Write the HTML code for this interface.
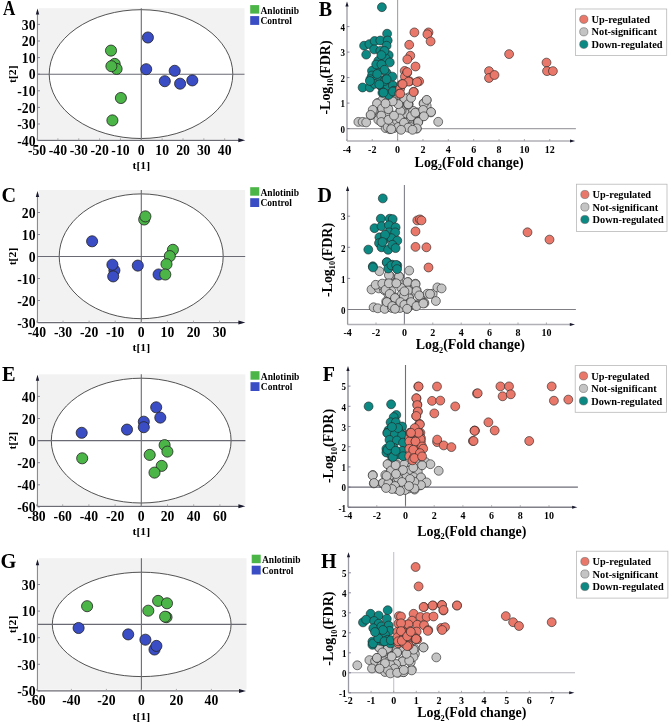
<!DOCTYPE html><html><head><meta charset="utf-8"><style>html,body{margin:0;padding:0;background:#fff;}svg{display:block;will-change:transform;}</style></head><body>
<svg width="669" height="724" viewBox="0 0 669 724">
<rect x="38.7" y="8.2" width="205.8" height="130.8" fill="#f2f2f2"/>
<ellipse cx="141" cy="74.1" rx="91.8" ry="64.4" fill="#fff" stroke="#404040" stroke-width="0.9"/>
<line x1="141.3" y1="8.2" x2="141.3" y2="140.3" stroke="#6a6a74" stroke-width="1.1"/>
<line x1="37.5" y1="74.2" x2="244.5" y2="74.2" stroke="#6a6a74" stroke-width="1.1"/>
<line x1="37.5" y1="11.5" x2="37.5" y2="140.3" stroke="#8a8a98" stroke-width="1.2"/>
<line x1="37.5" y1="140.3" x2="242.3" y2="140.3" stroke="#6c6c74" stroke-width="1.2"/>
<path d="M37.5 8.5 L35.8 14.5 L39.2 14.5 Z" fill="#1a1a2e"/>
<path d="M245.3 140.3 L238.3 138.3 L238.3 142.3 Z" fill="#1a1a2e"/>
<line x1="37.05" y1="140.3" x2="37.05" y2="138.3" stroke="#999" stroke-width="0.8"/>
<text x="0" y="0" font-family="Liberation Serif" font-weight="bold" font-size="13.7" text-anchor="middle" transform="translate(37.05 154.8) scale(1 1.13)" >-50</text>
<line x1="57.9" y1="140.3" x2="57.9" y2="138.3" stroke="#999" stroke-width="0.8"/>
<text x="0" y="0" font-family="Liberation Serif" font-weight="bold" font-size="13.7" text-anchor="middle" transform="translate(57.9 154.8) scale(1 1.13)" >-40</text>
<line x1="78.75" y1="140.3" x2="78.75" y2="138.3" stroke="#999" stroke-width="0.8"/>
<text x="0" y="0" font-family="Liberation Serif" font-weight="bold" font-size="13.7" text-anchor="middle" transform="translate(78.75 154.8) scale(1 1.13)" >-30</text>
<line x1="99.6" y1="140.3" x2="99.6" y2="138.3" stroke="#999" stroke-width="0.8"/>
<text x="0" y="0" font-family="Liberation Serif" font-weight="bold" font-size="13.7" text-anchor="middle" transform="translate(99.6 154.8) scale(1 1.13)" >-20</text>
<line x1="120.45" y1="140.3" x2="120.45" y2="138.3" stroke="#999" stroke-width="0.8"/>
<text x="0" y="0" font-family="Liberation Serif" font-weight="bold" font-size="13.7" text-anchor="middle" transform="translate(120.45 154.8) scale(1 1.13)" >-10</text>
<line x1="141.3" y1="140.3" x2="141.3" y2="138.3" stroke="#999" stroke-width="0.8"/>
<text x="0" y="0" font-family="Liberation Serif" font-weight="bold" font-size="13.7" text-anchor="middle" transform="translate(141.3 154.8) scale(1 1.13)" >0</text>
<line x1="162.15" y1="140.3" x2="162.15" y2="138.3" stroke="#999" stroke-width="0.8"/>
<text x="0" y="0" font-family="Liberation Serif" font-weight="bold" font-size="13.7" text-anchor="middle" transform="translate(162.15 154.8) scale(1 1.13)" >10</text>
<line x1="183" y1="140.3" x2="183" y2="138.3" stroke="#999" stroke-width="0.8"/>
<text x="0" y="0" font-family="Liberation Serif" font-weight="bold" font-size="13.7" text-anchor="middle" transform="translate(183 154.8) scale(1 1.13)" >20</text>
<line x1="203.85" y1="140.3" x2="203.85" y2="138.3" stroke="#999" stroke-width="0.8"/>
<text x="0" y="0" font-family="Liberation Serif" font-weight="bold" font-size="13.7" text-anchor="middle" transform="translate(203.85 154.8) scale(1 1.13)" >30</text>
<line x1="224.7" y1="140.3" x2="224.7" y2="138.3" stroke="#999" stroke-width="0.8"/>
<text x="0" y="0" font-family="Liberation Serif" font-weight="bold" font-size="13.7" text-anchor="middle" transform="translate(224.7 154.8) scale(1 1.13)" >40</text>
<line x1="37.5" y1="140.6" x2="40.0" y2="140.6" stroke="#6e6e84" stroke-width="0.8"/>
<text x="0" y="0" font-family="Liberation Serif" font-weight="bold" font-size="13.7" text-anchor="end" transform="translate(35.5 145.8) scale(1 1.13)" >-40</text>
<line x1="37.5" y1="124" x2="40.0" y2="124" stroke="#6e6e84" stroke-width="0.8"/>
<text x="0" y="0" font-family="Liberation Serif" font-weight="bold" font-size="13.7" text-anchor="end" transform="translate(35.5 129.2) scale(1 1.13)" >-30</text>
<line x1="37.5" y1="107.4" x2="40.0" y2="107.4" stroke="#6e6e84" stroke-width="0.8"/>
<text x="0" y="0" font-family="Liberation Serif" font-weight="bold" font-size="13.7" text-anchor="end" transform="translate(35.5 112.6) scale(1 1.13)" >-20</text>
<line x1="37.5" y1="90.8" x2="40.0" y2="90.8" stroke="#6e6e84" stroke-width="0.8"/>
<text x="0" y="0" font-family="Liberation Serif" font-weight="bold" font-size="13.7" text-anchor="end" transform="translate(35.5 96) scale(1 1.13)" >-10</text>
<line x1="37.5" y1="74.2" x2="40.0" y2="74.2" stroke="#6e6e84" stroke-width="0.8"/>
<text x="0" y="0" font-family="Liberation Serif" font-weight="bold" font-size="13.7" text-anchor="end" transform="translate(35.5 79.4) scale(1 1.13)" >0</text>
<line x1="37.5" y1="57.6" x2="40.0" y2="57.6" stroke="#6e6e84" stroke-width="0.8"/>
<text x="0" y="0" font-family="Liberation Serif" font-weight="bold" font-size="13.7" text-anchor="end" transform="translate(35.5 62.8) scale(1 1.13)" >10</text>
<line x1="37.5" y1="41" x2="40.0" y2="41" stroke="#6e6e84" stroke-width="0.8"/>
<text x="0" y="0" font-family="Liberation Serif" font-weight="bold" font-size="13.7" text-anchor="end" transform="translate(35.5 46.2) scale(1 1.13)" >20</text>
<line x1="37.5" y1="24.4" x2="40.0" y2="24.4" stroke="#6e6e84" stroke-width="0.8"/>
<text x="0" y="0" font-family="Liberation Serif" font-weight="bold" font-size="13.7" text-anchor="end" transform="translate(35.5 29.6) scale(1 1.13)" >30</text>
<text x="0" y="0" font-family="Liberation Serif" font-weight="bold" font-size="11.4" text-anchor="middle" transform="translate(141.3 168.9) scale(1.03 1)" >t[1]</text>
<text x="0" y="0" font-family="Liberation Serif" font-weight="bold" font-size="11.4" text-anchor="middle" transform="translate(15.6 74.2) rotate(-90) scale(1.03 1)" >t[2]</text>
<circle cx="114.7" cy="63.9" r="5.55" fill="#4bb548" stroke="#222" stroke-width="0.8"/>
<circle cx="111" cy="50.6" r="5.55" fill="#4bb548" stroke="#222" stroke-width="0.8"/>
<circle cx="116.6" cy="68.9" r="5.55" fill="#4bb548" stroke="#222" stroke-width="0.8"/>
<circle cx="111.4" cy="66.2" r="5.55" fill="#4bb548" stroke="#222" stroke-width="0.8"/>
<circle cx="120.9" cy="98" r="5.55" fill="#4bb548" stroke="#222" stroke-width="0.8"/>
<circle cx="112.4" cy="120.4" r="5.55" fill="#4bb548" stroke="#222" stroke-width="0.8"/>
<circle cx="147.9" cy="37.5" r="5.55" fill="#3b4dc4" stroke="#222" stroke-width="0.8"/>
<circle cx="146.2" cy="69.2" r="5.55" fill="#3b4dc4" stroke="#222" stroke-width="0.8"/>
<circle cx="174.7" cy="70.8" r="5.55" fill="#3b4dc4" stroke="#222" stroke-width="0.8"/>
<circle cx="164.8" cy="81.2" r="5.55" fill="#3b4dc4" stroke="#222" stroke-width="0.8"/>
<circle cx="180.1" cy="83.7" r="5.55" fill="#3b4dc4" stroke="#222" stroke-width="0.8"/>
<circle cx="192.3" cy="80.4" r="5.55" fill="#3b4dc4" stroke="#222" stroke-width="0.8"/>
<text x="0" y="0" font-family="Liberation Serif" font-weight="bold" font-size="20.5" text-anchor="start" transform="translate(3 15) scale(0.83 1)" >A</text>
<rect x="250.2" y="5.1" width="9" height="8.5" fill="#4bb548"/>
<rect x="250.2" y="16.1" width="9" height="8.8" fill="#3b4dc4"/>
<text x="260.5" y="13.5" font-family="Liberation Serif" font-weight="bold" font-size="9.5" text-anchor="start" >Anlotinib</text>
<text x="260.5" y="24.3" font-family="Liberation Serif" font-weight="bold" font-size="9.5" text-anchor="start" >Control</text>
<rect x="38.7" y="190" width="206.5" height="131.3" fill="#f2f2f2"/>
<ellipse cx="141.2" cy="256.3" rx="82" ry="62.4" fill="#fff" stroke="#404040" stroke-width="0.9"/>
<line x1="141.3" y1="190" x2="141.3" y2="322.6" stroke="#6a6a74" stroke-width="1.1"/>
<line x1="37.5" y1="256.5" x2="245.2" y2="256.5" stroke="#6a6a74" stroke-width="1.1"/>
<line x1="37.5" y1="194.0" x2="37.5" y2="322.6" stroke="#8a8a98" stroke-width="1.2"/>
<line x1="37.5" y1="322.6" x2="242.4" y2="322.6" stroke="#6c6c74" stroke-width="1.2"/>
<path d="M37.5 191 L35.8 197 L39.2 197 Z" fill="#1a1a2e"/>
<path d="M245.4 322.6 L238.4 320.6 L238.4 324.6 Z" fill="#1a1a2e"/>
<line x1="36.9" y1="322.6" x2="36.9" y2="320.6" stroke="#999" stroke-width="0.8"/>
<text x="0" y="0" font-family="Liberation Serif" font-weight="bold" font-size="13.7" text-anchor="middle" transform="translate(36.9 337.1) scale(1 1.13)" >-40</text>
<line x1="63" y1="322.6" x2="63" y2="320.6" stroke="#999" stroke-width="0.8"/>
<text x="0" y="0" font-family="Liberation Serif" font-weight="bold" font-size="13.7" text-anchor="middle" transform="translate(63 337.1) scale(1 1.13)" >-30</text>
<line x1="89.1" y1="322.6" x2="89.1" y2="320.6" stroke="#999" stroke-width="0.8"/>
<text x="0" y="0" font-family="Liberation Serif" font-weight="bold" font-size="13.7" text-anchor="middle" transform="translate(89.1 337.1) scale(1 1.13)" >-20</text>
<line x1="115.2" y1="322.6" x2="115.2" y2="320.6" stroke="#999" stroke-width="0.8"/>
<text x="0" y="0" font-family="Liberation Serif" font-weight="bold" font-size="13.7" text-anchor="middle" transform="translate(115.2 337.1) scale(1 1.13)" >-10</text>
<line x1="141.3" y1="322.6" x2="141.3" y2="320.6" stroke="#999" stroke-width="0.8"/>
<text x="0" y="0" font-family="Liberation Serif" font-weight="bold" font-size="13.7" text-anchor="middle" transform="translate(141.3 337.1) scale(1 1.13)" >0</text>
<line x1="167.4" y1="322.6" x2="167.4" y2="320.6" stroke="#999" stroke-width="0.8"/>
<text x="0" y="0" font-family="Liberation Serif" font-weight="bold" font-size="13.7" text-anchor="middle" transform="translate(167.4 337.1) scale(1 1.13)" >10</text>
<line x1="193.5" y1="322.6" x2="193.5" y2="320.6" stroke="#999" stroke-width="0.8"/>
<text x="0" y="0" font-family="Liberation Serif" font-weight="bold" font-size="13.7" text-anchor="middle" transform="translate(193.5 337.1) scale(1 1.13)" >20</text>
<line x1="219.6" y1="322.6" x2="219.6" y2="320.6" stroke="#999" stroke-width="0.8"/>
<text x="0" y="0" font-family="Liberation Serif" font-weight="bold" font-size="13.7" text-anchor="middle" transform="translate(219.6 337.1) scale(1 1.13)" >30</text>
<line x1="37.5" y1="322.5" x2="40.0" y2="322.5" stroke="#6e6e84" stroke-width="0.8"/>
<text x="0" y="0" font-family="Liberation Serif" font-weight="bold" font-size="13.7" text-anchor="end" transform="translate(35.5 327.7) scale(1 1.13)" >-30</text>
<line x1="37.5" y1="300.5" x2="40.0" y2="300.5" stroke="#6e6e84" stroke-width="0.8"/>
<text x="0" y="0" font-family="Liberation Serif" font-weight="bold" font-size="13.7" text-anchor="end" transform="translate(35.5 305.7) scale(1 1.13)" >-20</text>
<line x1="37.5" y1="278.5" x2="40.0" y2="278.5" stroke="#6e6e84" stroke-width="0.8"/>
<text x="0" y="0" font-family="Liberation Serif" font-weight="bold" font-size="13.7" text-anchor="end" transform="translate(35.5 283.7) scale(1 1.13)" >-10</text>
<line x1="37.5" y1="256.5" x2="40.0" y2="256.5" stroke="#6e6e84" stroke-width="0.8"/>
<text x="0" y="0" font-family="Liberation Serif" font-weight="bold" font-size="13.7" text-anchor="end" transform="translate(35.5 261.7) scale(1 1.13)" >0</text>
<line x1="37.5" y1="234.5" x2="40.0" y2="234.5" stroke="#6e6e84" stroke-width="0.8"/>
<text x="0" y="0" font-family="Liberation Serif" font-weight="bold" font-size="13.7" text-anchor="end" transform="translate(35.5 239.7) scale(1 1.13)" >10</text>
<line x1="37.5" y1="212.5" x2="40.0" y2="212.5" stroke="#6e6e84" stroke-width="0.8"/>
<text x="0" y="0" font-family="Liberation Serif" font-weight="bold" font-size="13.7" text-anchor="end" transform="translate(35.5 217.7) scale(1 1.13)" >20</text>
<text x="0" y="0" font-family="Liberation Serif" font-weight="bold" font-size="11.4" text-anchor="middle" transform="translate(141.3 351.2) scale(1.03 1)" >t[1]</text>
<text x="0" y="0" font-family="Liberation Serif" font-weight="bold" font-size="11.4" text-anchor="middle" transform="translate(15.6 256.5) rotate(-90) scale(1.03 1)" >t[2]</text>
<circle cx="92.1" cy="241.3" r="5.55" fill="#3b4dc4" stroke="#222" stroke-width="0.8"/>
<circle cx="114.4" cy="270.4" r="5.55" fill="#3b4dc4" stroke="#222" stroke-width="0.8"/>
<circle cx="112.4" cy="264.7" r="5.55" fill="#3b4dc4" stroke="#222" stroke-width="0.8"/>
<circle cx="113.2" cy="276.4" r="5.55" fill="#3b4dc4" stroke="#222" stroke-width="0.8"/>
<circle cx="137.8" cy="265.6" r="5.55" fill="#3b4dc4" stroke="#222" stroke-width="0.8"/>
<circle cx="158.6" cy="274.5" r="5.55" fill="#3b4dc4" stroke="#222" stroke-width="0.8"/>
<circle cx="144.2" cy="219.5" r="5.55" fill="#4bb548" stroke="#222" stroke-width="0.8"/>
<circle cx="145.4" cy="216.4" r="5.55" fill="#4bb548" stroke="#222" stroke-width="0.8"/>
<circle cx="172.9" cy="249.8" r="5.55" fill="#4bb548" stroke="#222" stroke-width="0.8"/>
<circle cx="169.8" cy="256.1" r="5.55" fill="#4bb548" stroke="#222" stroke-width="0.8"/>
<circle cx="166.5" cy="264.2" r="5.55" fill="#4bb548" stroke="#222" stroke-width="0.8"/>
<circle cx="165.3" cy="274.5" r="5.55" fill="#4bb548" stroke="#222" stroke-width="0.8"/>
<text x="0" y="0" font-family="Liberation Serif" font-weight="bold" font-size="21" text-anchor="start" transform="translate(1.5 202) scale(0.96 1)" >C</text>
<rect x="250.2" y="187.2" width="9" height="8.5" fill="#4bb548"/>
<rect x="250.2" y="198.2" width="9" height="8.8" fill="#3b4dc4"/>
<text x="260.5" y="195.6" font-family="Liberation Serif" font-weight="bold" font-size="9.5" text-anchor="start" >Anlotinib</text>
<text x="260.5" y="206.4" font-family="Liberation Serif" font-weight="bold" font-size="9.5" text-anchor="start" >Control</text>
<rect x="38.7" y="374.3" width="206.7" height="130.7" fill="#f2f2f2"/>
<ellipse cx="141.2" cy="440.6" rx="89.9" ry="62.4" fill="#fff" stroke="#404040" stroke-width="0.9"/>
<line x1="141.3" y1="374.3" x2="141.3" y2="506.3" stroke="#6a6a74" stroke-width="1.1"/>
<line x1="37.5" y1="440.6" x2="245.4" y2="440.6" stroke="#6a6a74" stroke-width="1.1"/>
<line x1="37.5" y1="377.8" x2="37.5" y2="506.3" stroke="#8a8a98" stroke-width="1.2"/>
<line x1="37.5" y1="506.3" x2="242.4" y2="506.3" stroke="#6c6c74" stroke-width="1.2"/>
<path d="M37.5 374.8 L35.8 380.8 L39.2 380.8 Z" fill="#1a1a2e"/>
<path d="M245.4 506.3 L238.4 504.3 L238.4 508.3 Z" fill="#1a1a2e"/>
<line x1="36.5" y1="506.3" x2="36.5" y2="504.3" stroke="#999" stroke-width="0.8"/>
<text x="0" y="0" font-family="Liberation Serif" font-weight="bold" font-size="13.7" text-anchor="middle" transform="translate(36.5 520.8) scale(1 1.13)" >-80</text>
<line x1="62.7" y1="506.3" x2="62.7" y2="504.3" stroke="#999" stroke-width="0.8"/>
<text x="0" y="0" font-family="Liberation Serif" font-weight="bold" font-size="13.7" text-anchor="middle" transform="translate(62.7 520.8) scale(1 1.13)" >-60</text>
<line x1="88.9" y1="506.3" x2="88.9" y2="504.3" stroke="#999" stroke-width="0.8"/>
<text x="0" y="0" font-family="Liberation Serif" font-weight="bold" font-size="13.7" text-anchor="middle" transform="translate(88.9 520.8) scale(1 1.13)" >-40</text>
<line x1="115.1" y1="506.3" x2="115.1" y2="504.3" stroke="#999" stroke-width="0.8"/>
<text x="0" y="0" font-family="Liberation Serif" font-weight="bold" font-size="13.7" text-anchor="middle" transform="translate(115.1 520.8) scale(1 1.13)" >-20</text>
<line x1="141.3" y1="506.3" x2="141.3" y2="504.3" stroke="#999" stroke-width="0.8"/>
<text x="0" y="0" font-family="Liberation Serif" font-weight="bold" font-size="13.7" text-anchor="middle" transform="translate(141.3 520.8) scale(1 1.13)" >0</text>
<line x1="167.5" y1="506.3" x2="167.5" y2="504.3" stroke="#999" stroke-width="0.8"/>
<text x="0" y="0" font-family="Liberation Serif" font-weight="bold" font-size="13.7" text-anchor="middle" transform="translate(167.5 520.8) scale(1 1.13)" >20</text>
<line x1="193.7" y1="506.3" x2="193.7" y2="504.3" stroke="#999" stroke-width="0.8"/>
<text x="0" y="0" font-family="Liberation Serif" font-weight="bold" font-size="13.7" text-anchor="middle" transform="translate(193.7 520.8) scale(1 1.13)" >40</text>
<line x1="219.9" y1="506.3" x2="219.9" y2="504.3" stroke="#999" stroke-width="0.8"/>
<text x="0" y="0" font-family="Liberation Serif" font-weight="bold" font-size="13.7" text-anchor="middle" transform="translate(219.9 520.8) scale(1 1.13)" >60</text>
<line x1="37.5" y1="506.9" x2="40.0" y2="506.9" stroke="#6e6e84" stroke-width="0.8"/>
<text x="0" y="0" font-family="Liberation Serif" font-weight="bold" font-size="13.7" text-anchor="end" transform="translate(35.5 512.1) scale(1 1.13)" >-60</text>
<line x1="37.5" y1="484.8" x2="40.0" y2="484.8" stroke="#6e6e84" stroke-width="0.8"/>
<text x="0" y="0" font-family="Liberation Serif" font-weight="bold" font-size="13.7" text-anchor="end" transform="translate(35.5 490) scale(1 1.13)" >-40</text>
<line x1="37.5" y1="462.7" x2="40.0" y2="462.7" stroke="#6e6e84" stroke-width="0.8"/>
<text x="0" y="0" font-family="Liberation Serif" font-weight="bold" font-size="13.7" text-anchor="end" transform="translate(35.5 467.9) scale(1 1.13)" >-20</text>
<line x1="37.5" y1="440.6" x2="40.0" y2="440.6" stroke="#6e6e84" stroke-width="0.8"/>
<text x="0" y="0" font-family="Liberation Serif" font-weight="bold" font-size="13.7" text-anchor="end" transform="translate(35.5 445.8) scale(1 1.13)" >0</text>
<line x1="37.5" y1="418.5" x2="40.0" y2="418.5" stroke="#6e6e84" stroke-width="0.8"/>
<text x="0" y="0" font-family="Liberation Serif" font-weight="bold" font-size="13.7" text-anchor="end" transform="translate(35.5 423.7) scale(1 1.13)" >20</text>
<line x1="37.5" y1="396.4" x2="40.0" y2="396.4" stroke="#6e6e84" stroke-width="0.8"/>
<text x="0" y="0" font-family="Liberation Serif" font-weight="bold" font-size="13.7" text-anchor="end" transform="translate(35.5 401.6) scale(1 1.13)" >40</text>
<text x="0" y="0" font-family="Liberation Serif" font-weight="bold" font-size="11.4" text-anchor="middle" transform="translate(141.3 534.9) scale(1.03 1)" >t[1]</text>
<text x="0" y="0" font-family="Liberation Serif" font-weight="bold" font-size="11.4" text-anchor="middle" transform="translate(15.6 440.6) rotate(-90) scale(1.03 1)" >t[2]</text>
<circle cx="81.7" cy="432.8" r="5.55" fill="#3b4dc4" stroke="#222" stroke-width="0.8"/>
<circle cx="127" cy="429.6" r="5.55" fill="#3b4dc4" stroke="#222" stroke-width="0.8"/>
<circle cx="143.8" cy="421.7" r="5.55" fill="#3b4dc4" stroke="#222" stroke-width="0.8"/>
<circle cx="143.8" cy="427.2" r="5.55" fill="#3b4dc4" stroke="#222" stroke-width="0.8"/>
<circle cx="156.2" cy="407.3" r="5.55" fill="#3b4dc4" stroke="#222" stroke-width="0.8"/>
<circle cx="160.3" cy="417.6" r="5.55" fill="#3b4dc4" stroke="#222" stroke-width="0.8"/>
<circle cx="82.2" cy="458.3" r="5.55" fill="#4bb548" stroke="#222" stroke-width="0.8"/>
<circle cx="149.7" cy="454.9" r="5.55" fill="#4bb548" stroke="#222" stroke-width="0.8"/>
<circle cx="164.6" cy="445.1" r="5.55" fill="#4bb548" stroke="#222" stroke-width="0.8"/>
<circle cx="167.4" cy="451.6" r="5.55" fill="#4bb548" stroke="#222" stroke-width="0.8"/>
<circle cx="161.7" cy="465.9" r="5.55" fill="#4bb548" stroke="#222" stroke-width="0.8"/>
<circle cx="154.5" cy="472.6" r="5.55" fill="#4bb548" stroke="#222" stroke-width="0.8"/>
<text x="1.9" y="380.8" font-family="Liberation Serif" font-weight="bold" font-size="20.3" text-anchor="start" >E</text>
<rect x="250.5" y="371.2" width="9" height="8.5" fill="#4bb548"/>
<rect x="250.5" y="382.2" width="9" height="8.8" fill="#3b4dc4"/>
<text x="260.8" y="379.6" font-family="Liberation Serif" font-weight="bold" font-size="9.5" text-anchor="start" >Anlotinib</text>
<text x="260.8" y="390.4" font-family="Liberation Serif" font-weight="bold" font-size="9.5" text-anchor="start" >Control</text>
<rect x="38.7" y="558.2" width="207.8" height="131.4" fill="#f2f2f2"/>
<ellipse cx="141.7" cy="624.4" rx="89.4" ry="52.2" fill="#fff" stroke="#404040" stroke-width="0.9"/>
<line x1="141.4" y1="558.2" x2="141.4" y2="690.9" stroke="#6a6a74" stroke-width="1.1"/>
<line x1="37.5" y1="624.4" x2="246.5" y2="624.4" stroke="#6a6a74" stroke-width="1.1"/>
<line x1="37.5" y1="562.2" x2="37.5" y2="690.9" stroke="#8a8a98" stroke-width="1.2"/>
<line x1="37.5" y1="690.9" x2="243.0" y2="690.9" stroke="#6c6c74" stroke-width="1.2"/>
<path d="M37.5 559.2 L35.8 565.2 L39.2 565.2 Z" fill="#1a1a2e"/>
<path d="M246 690.9 L239 688.9 L239 692.9 Z" fill="#1a1a2e"/>
<line x1="36.4" y1="690.9" x2="36.4" y2="688.9" stroke="#999" stroke-width="0.8"/>
<text x="0" y="0" font-family="Liberation Serif" font-weight="bold" font-size="13.7" text-anchor="middle" transform="translate(36.4 705.4) scale(1 1.13)" >-60</text>
<line x1="71.4" y1="690.9" x2="71.4" y2="688.9" stroke="#999" stroke-width="0.8"/>
<text x="0" y="0" font-family="Liberation Serif" font-weight="bold" font-size="13.7" text-anchor="middle" transform="translate(71.4 705.4) scale(1 1.13)" >-40</text>
<line x1="106.4" y1="690.9" x2="106.4" y2="688.9" stroke="#999" stroke-width="0.8"/>
<text x="0" y="0" font-family="Liberation Serif" font-weight="bold" font-size="13.7" text-anchor="middle" transform="translate(106.4 705.4) scale(1 1.13)" >-20</text>
<line x1="141.4" y1="690.9" x2="141.4" y2="688.9" stroke="#999" stroke-width="0.8"/>
<text x="0" y="0" font-family="Liberation Serif" font-weight="bold" font-size="13.7" text-anchor="middle" transform="translate(141.4 705.4) scale(1 1.13)" >0</text>
<line x1="176.4" y1="690.9" x2="176.4" y2="688.9" stroke="#999" stroke-width="0.8"/>
<text x="0" y="0" font-family="Liberation Serif" font-weight="bold" font-size="13.7" text-anchor="middle" transform="translate(176.4 705.4) scale(1 1.13)" >20</text>
<line x1="211.4" y1="690.9" x2="211.4" y2="688.9" stroke="#999" stroke-width="0.8"/>
<text x="0" y="0" font-family="Liberation Serif" font-weight="bold" font-size="13.7" text-anchor="middle" transform="translate(211.4 705.4) scale(1 1.13)" >40</text>
<line x1="37.5" y1="690.9" x2="40.0" y2="690.9" stroke="#6e6e84" stroke-width="0.8"/>
<text x="0" y="0" font-family="Liberation Serif" font-weight="bold" font-size="13.7" text-anchor="end" transform="translate(35.5 696.1) scale(1 1.13)" >-50</text>
<line x1="37.5" y1="664.3" x2="40.0" y2="664.3" stroke="#6e6e84" stroke-width="0.8"/>
<text x="0" y="0" font-family="Liberation Serif" font-weight="bold" font-size="13.7" text-anchor="end" transform="translate(35.5 669.5) scale(1 1.13)" >-30</text>
<line x1="37.5" y1="637.7" x2="40.0" y2="637.7" stroke="#6e6e84" stroke-width="0.8"/>
<text x="0" y="0" font-family="Liberation Serif" font-weight="bold" font-size="13.7" text-anchor="end" transform="translate(35.5 642.9) scale(1 1.13)" >-10</text>
<line x1="37.5" y1="611.1" x2="40.0" y2="611.1" stroke="#6e6e84" stroke-width="0.8"/>
<text x="0" y="0" font-family="Liberation Serif" font-weight="bold" font-size="13.7" text-anchor="end" transform="translate(35.5 616.3) scale(1 1.13)" >10</text>
<line x1="37.5" y1="584.5" x2="40.0" y2="584.5" stroke="#6e6e84" stroke-width="0.8"/>
<text x="0" y="0" font-family="Liberation Serif" font-weight="bold" font-size="13.7" text-anchor="end" transform="translate(35.5 589.7) scale(1 1.13)" >30</text>
<text x="0" y="0" font-family="Liberation Serif" font-weight="bold" font-size="11.4" text-anchor="middle" transform="translate(141.4 719.5) scale(1.03 1)" >t[1]</text>
<text x="0" y="0" font-family="Liberation Serif" font-weight="bold" font-size="11.4" text-anchor="middle" transform="translate(15.6 624.4) rotate(-90) scale(1.03 1)" >t[2]</text>
<circle cx="87.1" cy="606.2" r="5.55" fill="#4bb548" stroke="#222" stroke-width="0.8"/>
<circle cx="158.1" cy="600.9" r="5.55" fill="#4bb548" stroke="#222" stroke-width="0.8"/>
<circle cx="167" cy="603.3" r="5.55" fill="#4bb548" stroke="#222" stroke-width="0.8"/>
<circle cx="148.3" cy="610.7" r="5.55" fill="#4bb548" stroke="#222" stroke-width="0.8"/>
<circle cx="166.5" cy="617.2" r="5.55" fill="#4bb548" stroke="#222" stroke-width="0.8"/>
<circle cx="165.1" cy="616.7" r="5.55" fill="#4bb548" stroke="#222" stroke-width="0.8"/>
<circle cx="78.6" cy="628" r="5.55" fill="#3b4dc4" stroke="#222" stroke-width="0.8"/>
<circle cx="128.2" cy="634.4" r="5.55" fill="#3b4dc4" stroke="#222" stroke-width="0.8"/>
<circle cx="145.4" cy="639.7" r="5.55" fill="#3b4dc4" stroke="#222" stroke-width="0.8"/>
<circle cx="154.5" cy="649.5" r="5.55" fill="#3b4dc4" stroke="#222" stroke-width="0.8"/>
<circle cx="156.4" cy="645.9" r="5.55" fill="#3b4dc4" stroke="#222" stroke-width="0.8"/>
<text x="0" y="0" font-family="Liberation Serif" font-weight="bold" font-size="21" text-anchor="start" transform="translate(0.6 567.7) scale(0.97 1)" >G</text>
<rect x="251.7" y="554.7" width="9" height="8.5" fill="#4bb548"/>
<rect x="251.7" y="565.7" width="9" height="8.8" fill="#3b4dc4"/>
<text x="262" y="563.1" font-family="Liberation Serif" font-weight="bold" font-size="9.5" text-anchor="start" >Anlotinib</text>
<text x="262" y="573.9" font-family="Liberation Serif" font-weight="bold" font-size="9.5" text-anchor="start" >Control</text>
<line x1="397.6" y1="0" x2="397.6" y2="141.0" stroke="#a2a2aa" stroke-width="1.1"/>
<line x1="347.0" y1="128.6" x2="575.9" y2="128.6" stroke="#a4a4a8" stroke-width="1.1"/>
<line x1="347.0" y1="4.6" x2="347.0" y2="141.0" stroke="#9a9aa4" stroke-width="1.3"/>
<line x1="347.0" y1="141.0" x2="572.2" y2="141.0" stroke="#b0b0b6" stroke-width="1.5"/>
<path d="M347 1.6 L345.4 6.6 L348.6 6.6 Z" fill="#1a1a2e"/>
<path d="M575.2 141 L570 139.5 L570 142.5 Z" fill="#1a1a2e"/>
<line x1="346.88" y1="141.0" x2="346.88" y2="139.0" stroke="#999" stroke-width="0.8"/>
<text x="346.88" y="152.6" font-family="Liberation Serif" font-weight="bold" font-size="10" text-anchor="middle" >-4</text>
<line x1="372.24" y1="141.0" x2="372.24" y2="139.0" stroke="#999" stroke-width="0.8"/>
<text x="372.24" y="152.6" font-family="Liberation Serif" font-weight="bold" font-size="10" text-anchor="middle" >-2</text>
<line x1="397.6" y1="141.0" x2="397.6" y2="139.0" stroke="#999" stroke-width="0.8"/>
<text x="397.6" y="152.6" font-family="Liberation Serif" font-weight="bold" font-size="10" text-anchor="middle" >0</text>
<line x1="422.96" y1="141.0" x2="422.96" y2="139.0" stroke="#999" stroke-width="0.8"/>
<text x="422.96" y="152.6" font-family="Liberation Serif" font-weight="bold" font-size="10" text-anchor="middle" >2</text>
<line x1="448.32" y1="141.0" x2="448.32" y2="139.0" stroke="#999" stroke-width="0.8"/>
<text x="448.32" y="152.6" font-family="Liberation Serif" font-weight="bold" font-size="10" text-anchor="middle" >4</text>
<line x1="473.68" y1="141.0" x2="473.68" y2="139.0" stroke="#999" stroke-width="0.8"/>
<text x="473.68" y="152.6" font-family="Liberation Serif" font-weight="bold" font-size="10" text-anchor="middle" >6</text>
<line x1="499.04" y1="141.0" x2="499.04" y2="139.0" stroke="#999" stroke-width="0.8"/>
<text x="499.04" y="152.6" font-family="Liberation Serif" font-weight="bold" font-size="10" text-anchor="middle" >8</text>
<line x1="524.4" y1="141.0" x2="524.4" y2="139.0" stroke="#999" stroke-width="0.8"/>
<text x="524.4" y="152.6" font-family="Liberation Serif" font-weight="bold" font-size="10" text-anchor="middle" >10</text>
<line x1="549.76" y1="141.0" x2="549.76" y2="139.0" stroke="#999" stroke-width="0.8"/>
<text x="549.76" y="152.6" font-family="Liberation Serif" font-weight="bold" font-size="10" text-anchor="middle" >12</text>
<line x1="347.0" y1="128.6" x2="349.5" y2="128.6" stroke="#6e6e84" stroke-width="0.8"/>
<text x="0" y="0" font-family="Liberation Serif" font-weight="bold" font-size="10" text-anchor="end" transform="translate(345 132.8) scale(0.9 1)" >0</text>
<line x1="347.0" y1="103.1" x2="349.5" y2="103.1" stroke="#6e6e84" stroke-width="0.8"/>
<text x="0" y="0" font-family="Liberation Serif" font-weight="bold" font-size="10" text-anchor="end" transform="translate(345 107.3) scale(0.9 1)" >1</text>
<line x1="347.0" y1="77.6" x2="349.5" y2="77.6" stroke="#6e6e84" stroke-width="0.8"/>
<text x="0" y="0" font-family="Liberation Serif" font-weight="bold" font-size="10" text-anchor="end" transform="translate(345 81.8) scale(0.9 1)" >2</text>
<line x1="347.0" y1="52.1" x2="349.5" y2="52.1" stroke="#6e6e84" stroke-width="0.8"/>
<text x="0" y="0" font-family="Liberation Serif" font-weight="bold" font-size="10" text-anchor="end" transform="translate(345 56.3) scale(0.9 1)" >3</text>
<line x1="347.0" y1="26.6" x2="349.5" y2="26.6" stroke="#6e6e84" stroke-width="0.8"/>
<text x="0" y="0" font-family="Liberation Serif" font-weight="bold" font-size="10" text-anchor="end" transform="translate(345 30.8) scale(0.9 1)" >4</text>
<circle cx="358.4" cy="121.9" r="4.45" fill="#c4c4c4" stroke="#222" stroke-width="0.6"/>
<circle cx="362.6" cy="121.9" r="4.45" fill="#c4c4c4" stroke="#222" stroke-width="0.6"/>
<circle cx="366.2" cy="122.4" r="4.45" fill="#c4c4c4" stroke="#222" stroke-width="0.6"/>
<circle cx="370.9" cy="115.1" r="4.45" fill="#c4c4c4" stroke="#222" stroke-width="0.6"/>
<circle cx="374.1" cy="110.3" r="4.45" fill="#c4c4c4" stroke="#222" stroke-width="0.6"/>
<circle cx="377.7" cy="103" r="4.45" fill="#c4c4c4" stroke="#222" stroke-width="0.6"/>
<circle cx="381.4" cy="121.9" r="4.45" fill="#c4c4c4" stroke="#222" stroke-width="0.6"/>
<circle cx="381.4" cy="114.5" r="4.45" fill="#c4c4c4" stroke="#222" stroke-width="0.6"/>
<circle cx="381.4" cy="107.2" r="4.45" fill="#c4c4c4" stroke="#222" stroke-width="0.6"/>
<circle cx="382.4" cy="99.9" r="4.45" fill="#c4c4c4" stroke="#222" stroke-width="0.6"/>
<circle cx="386.6" cy="102.5" r="4.45" fill="#c4c4c4" stroke="#222" stroke-width="0.6"/>
<circle cx="387.7" cy="109.3" r="4.45" fill="#c4c4c4" stroke="#222" stroke-width="0.6"/>
<circle cx="392.9" cy="100.9" r="4.45" fill="#c4c4c4" stroke="#222" stroke-width="0.6"/>
<circle cx="399.2" cy="104.1" r="4.45" fill="#c4c4c4" stroke="#222" stroke-width="0.6"/>
<circle cx="404.4" cy="99.9" r="4.45" fill="#c4c4c4" stroke="#222" stroke-width="0.6"/>
<circle cx="408.6" cy="97.8" r="4.45" fill="#c4c4c4" stroke="#222" stroke-width="0.6"/>
<circle cx="408.6" cy="104.1" r="4.45" fill="#c4c4c4" stroke="#222" stroke-width="0.6"/>
<circle cx="400.2" cy="111.4" r="4.45" fill="#c4c4c4" stroke="#222" stroke-width="0.6"/>
<circle cx="391.9" cy="115.6" r="4.45" fill="#c4c4c4" stroke="#222" stroke-width="0.6"/>
<circle cx="386.6" cy="114.5" r="4.45" fill="#c4c4c4" stroke="#222" stroke-width="0.6"/>
<circle cx="388.7" cy="121.9" r="4.45" fill="#c4c4c4" stroke="#222" stroke-width="0.6"/>
<circle cx="396" cy="121.9" r="4.45" fill="#c4c4c4" stroke="#222" stroke-width="0.6"/>
<circle cx="397.1" cy="127.1" r="4.45" fill="#c4c4c4" stroke="#222" stroke-width="0.6"/>
<circle cx="385.6" cy="128.1" r="4.45" fill="#c4c4c4" stroke="#222" stroke-width="0.6"/>
<circle cx="404.4" cy="126" r="4.45" fill="#c4c4c4" stroke="#222" stroke-width="0.6"/>
<circle cx="411.7" cy="116.6" r="4.45" fill="#c4c4c4" stroke="#222" stroke-width="0.6"/>
<circle cx="412.8" cy="123.9" r="4.45" fill="#c4c4c4" stroke="#222" stroke-width="0.6"/>
<circle cx="410.7" cy="128.1" r="4.45" fill="#c4c4c4" stroke="#222" stroke-width="0.6"/>
<circle cx="418" cy="121.9" r="4.45" fill="#c4c4c4" stroke="#222" stroke-width="0.6"/>
<circle cx="417" cy="112.4" r="4.45" fill="#c4c4c4" stroke="#222" stroke-width="0.6"/>
<circle cx="394" cy="128.1" r="4.45" fill="#c4c4c4" stroke="#222" stroke-width="0.6"/>
<circle cx="389.8" cy="129.2" r="4.45" fill="#c4c4c4" stroke="#222" stroke-width="0.6"/>
<circle cx="402.3" cy="118.7" r="4.45" fill="#c4c4c4" stroke="#222" stroke-width="0.6"/>
<circle cx="405.5" cy="113.5" r="4.45" fill="#c4c4c4" stroke="#222" stroke-width="0.6"/>
<circle cx="378.3" cy="119.8" r="4.45" fill="#c4c4c4" stroke="#222" stroke-width="0.6"/>
<circle cx="426.7" cy="100.3" r="4.45" fill="#c4c4c4" stroke="#222" stroke-width="0.6"/>
<circle cx="423.5" cy="103.5" r="4.45" fill="#c4c4c4" stroke="#222" stroke-width="0.6"/>
<circle cx="426.7" cy="106.1" r="4.45" fill="#c4c4c4" stroke="#222" stroke-width="0.6"/>
<circle cx="430.9" cy="112.4" r="4.45" fill="#c4c4c4" stroke="#222" stroke-width="0.6"/>
<circle cx="423" cy="111.3" r="4.45" fill="#c4c4c4" stroke="#222" stroke-width="0.6"/>
<circle cx="423.5" cy="116" r="4.45" fill="#c4c4c4" stroke="#222" stroke-width="0.6"/>
<circle cx="418.3" cy="121.8" r="4.45" fill="#c4c4c4" stroke="#222" stroke-width="0.6"/>
<circle cx="416.7" cy="128.6" r="4.45" fill="#c4c4c4" stroke="#222" stroke-width="0.6"/>
<circle cx="410.5" cy="127" r="4.45" fill="#c4c4c4" stroke="#222" stroke-width="0.6"/>
<circle cx="411.5" cy="116.6" r="4.45" fill="#c4c4c4" stroke="#222" stroke-width="0.6"/>
<circle cx="413.1" cy="110.8" r="4.45" fill="#c4c4c4" stroke="#222" stroke-width="0.6"/>
<circle cx="408.4" cy="104.5" r="4.45" fill="#c4c4c4" stroke="#222" stroke-width="0.6"/>
<circle cx="409.4" cy="97.2" r="4.45" fill="#c4c4c4" stroke="#222" stroke-width="0.6"/>
<circle cx="404.2" cy="98.3" r="4.45" fill="#c4c4c4" stroke="#222" stroke-width="0.6"/>
<circle cx="401.6" cy="110.8" r="4.45" fill="#c4c4c4" stroke="#222" stroke-width="0.6"/>
<circle cx="403.1" cy="122.3" r="4.45" fill="#c4c4c4" stroke="#222" stroke-width="0.6"/>
<circle cx="438.2" cy="121.8" r="4.45" fill="#c4c4c4" stroke="#222" stroke-width="0.6"/>
<circle cx="377" cy="103.5" r="4.45" fill="#c4c4c4" stroke="#222" stroke-width="0.6"/>
<circle cx="382" cy="108.5" r="4.45" fill="#c4c4c4" stroke="#222" stroke-width="0.6"/>
<circle cx="388.4" cy="109.2" r="4.45" fill="#c4c4c4" stroke="#222" stroke-width="0.6"/>
<circle cx="381.3" cy="115.6" r="4.45" fill="#c4c4c4" stroke="#222" stroke-width="0.6"/>
<circle cx="381.3" cy="122" r="4.45" fill="#c4c4c4" stroke="#222" stroke-width="0.6"/>
<circle cx="387.6" cy="127" r="4.45" fill="#c4c4c4" stroke="#222" stroke-width="0.6"/>
<circle cx="392.6" cy="124.1" r="4.45" fill="#c4c4c4" stroke="#222" stroke-width="0.6"/>
<circle cx="396.9" cy="120.5" r="4.45" fill="#c4c4c4" stroke="#222" stroke-width="0.6"/>
<circle cx="398.3" cy="127" r="4.45" fill="#c4c4c4" stroke="#222" stroke-width="0.6"/>
<circle cx="400.4" cy="111.3" r="4.45" fill="#c4c4c4" stroke="#222" stroke-width="0.6"/>
<circle cx="399.7" cy="118.4" r="4.45" fill="#c4c4c4" stroke="#222" stroke-width="0.6"/>
<circle cx="404" cy="122.7" r="4.45" fill="#c4c4c4" stroke="#222" stroke-width="0.6"/>
<circle cx="408.2" cy="127.6" r="4.45" fill="#c4c4c4" stroke="#222" stroke-width="0.6"/>
<circle cx="411.1" cy="116.3" r="4.45" fill="#c4c4c4" stroke="#222" stroke-width="0.6"/>
<circle cx="415.3" cy="112.7" r="4.45" fill="#c4c4c4" stroke="#222" stroke-width="0.6"/>
<circle cx="418.2" cy="122" r="4.45" fill="#c4c4c4" stroke="#222" stroke-width="0.6"/>
<circle cx="416.8" cy="128.4" r="4.45" fill="#c4c4c4" stroke="#222" stroke-width="0.6"/>
<circle cx="408.2" cy="104.2" r="4.45" fill="#c4c4c4" stroke="#222" stroke-width="0.6"/>
<circle cx="398.3" cy="104.2" r="4.45" fill="#c4c4c4" stroke="#222" stroke-width="0.6"/>
<circle cx="392.6" cy="101.4" r="4.45" fill="#c4c4c4" stroke="#222" stroke-width="0.6"/>
<circle cx="385.5" cy="103.5" r="4.45" fill="#c4c4c4" stroke="#222" stroke-width="0.6"/>
<circle cx="411.1" cy="97.8" r="4.45" fill="#c4c4c4" stroke="#222" stroke-width="0.6"/>
<circle cx="423.9" cy="103.5" r="4.45" fill="#c4c4c4" stroke="#222" stroke-width="0.6"/>
<circle cx="426.7" cy="99.9" r="4.45" fill="#c4c4c4" stroke="#222" stroke-width="0.6"/>
<circle cx="423.2" cy="109.9" r="4.45" fill="#c4c4c4" stroke="#222" stroke-width="0.6"/>
<circle cx="431" cy="112" r="4.45" fill="#c4c4c4" stroke="#222" stroke-width="0.6"/>
<circle cx="423.9" cy="116.3" r="4.45" fill="#c4c4c4" stroke="#222" stroke-width="0.6"/>
<circle cx="372.7" cy="109.9" r="4.45" fill="#c4c4c4" stroke="#222" stroke-width="0.6"/>
<circle cx="370.6" cy="114.9" r="4.45" fill="#c4c4c4" stroke="#222" stroke-width="0.6"/>
<circle cx="388.4" cy="119.8" r="4.45" fill="#c4c4c4" stroke="#222" stroke-width="0.6"/>
<circle cx="394" cy="115.6" r="4.45" fill="#c4c4c4" stroke="#222" stroke-width="0.6"/>
<circle cx="391.2" cy="129.1" r="4.45" fill="#c4c4c4" stroke="#222" stroke-width="0.6"/>
<circle cx="401.1" cy="129.8" r="4.45" fill="#c4c4c4" stroke="#222" stroke-width="0.6"/>
<circle cx="412.5" cy="129.8" r="4.45" fill="#c4c4c4" stroke="#222" stroke-width="0.6"/>
<circle cx="381.9" cy="7.2" r="4.45" fill="#0d8984" stroke="#222" stroke-width="0.6"/>
<circle cx="387.1" cy="33.7" r="4.45" fill="#0d8984" stroke="#222" stroke-width="0.6"/>
<circle cx="364.1" cy="45.7" r="4.45" fill="#0d8984" stroke="#222" stroke-width="0.6"/>
<circle cx="369.4" cy="44.1" r="4.45" fill="#0d8984" stroke="#222" stroke-width="0.6"/>
<circle cx="374.6" cy="41" r="4.45" fill="#0d8984" stroke="#222" stroke-width="0.6"/>
<circle cx="380.3" cy="40.5" r="4.45" fill="#0d8984" stroke="#222" stroke-width="0.6"/>
<circle cx="387.7" cy="40.5" r="4.45" fill="#0d8984" stroke="#222" stroke-width="0.6"/>
<circle cx="374.1" cy="49.4" r="4.45" fill="#0d8984" stroke="#222" stroke-width="0.6"/>
<circle cx="380.3" cy="50.9" r="4.45" fill="#0d8984" stroke="#222" stroke-width="0.6"/>
<circle cx="386.6" cy="45.7" r="4.45" fill="#0d8984" stroke="#222" stroke-width="0.6"/>
<circle cx="366.2" cy="54.6" r="4.45" fill="#0d8984" stroke="#222" stroke-width="0.6"/>
<circle cx="388.7" cy="55.1" r="4.45" fill="#0d8984" stroke="#222" stroke-width="0.6"/>
<circle cx="378.3" cy="60.9" r="4.45" fill="#0d8984" stroke="#222" stroke-width="0.6"/>
<circle cx="385.6" cy="58.3" r="4.45" fill="#0d8984" stroke="#222" stroke-width="0.6"/>
<circle cx="389.8" cy="62.4" r="4.45" fill="#0d8984" stroke="#222" stroke-width="0.6"/>
<circle cx="380.3" cy="69.2" r="4.45" fill="#0d8984" stroke="#222" stroke-width="0.6"/>
<circle cx="372" cy="70.8" r="4.45" fill="#0d8984" stroke="#222" stroke-width="0.6"/>
<circle cx="372" cy="75.5" r="4.45" fill="#0d8984" stroke="#222" stroke-width="0.6"/>
<circle cx="386.6" cy="72.9" r="4.45" fill="#0d8984" stroke="#222" stroke-width="0.6"/>
<circle cx="392.4" cy="76.6" r="4.45" fill="#0d8984" stroke="#222" stroke-width="0.6"/>
<circle cx="370.4" cy="79.2" r="4.45" fill="#0d8984" stroke="#222" stroke-width="0.6"/>
<circle cx="383.5" cy="80.2" r="4.45" fill="#0d8984" stroke="#222" stroke-width="0.6"/>
<circle cx="377.2" cy="79.2" r="4.45" fill="#0d8984" stroke="#222" stroke-width="0.6"/>
<circle cx="362.6" cy="87.5" r="4.45" fill="#0d8984" stroke="#222" stroke-width="0.6"/>
<circle cx="369.9" cy="87.5" r="4.45" fill="#0d8984" stroke="#222" stroke-width="0.6"/>
<circle cx="374.6" cy="83.9" r="4.45" fill="#0d8984" stroke="#222" stroke-width="0.6"/>
<circle cx="381.4" cy="86.5" r="4.45" fill="#0d8984" stroke="#222" stroke-width="0.6"/>
<circle cx="387.7" cy="85.5" r="4.45" fill="#0d8984" stroke="#222" stroke-width="0.6"/>
<circle cx="392.9" cy="85.5" r="4.45" fill="#0d8984" stroke="#222" stroke-width="0.6"/>
<circle cx="382.4" cy="92.8" r="4.45" fill="#0d8984" stroke="#222" stroke-width="0.6"/>
<circle cx="388.7" cy="94.9" r="4.45" fill="#0d8984" stroke="#222" stroke-width="0.6"/>
<circle cx="393.9" cy="90.7" r="4.45" fill="#0d8984" stroke="#222" stroke-width="0.6"/>
<circle cx="369.9" cy="81" r="4.45" fill="#0d8984" stroke="#222" stroke-width="0.6"/>
<circle cx="384.5" cy="81" r="4.45" fill="#0d8984" stroke="#222" stroke-width="0.6"/>
<circle cx="383.5" cy="92.6" r="4.45" fill="#0d8984" stroke="#222" stroke-width="0.6"/>
<circle cx="392.9" cy="91.5" r="4.45" fill="#0d8984" stroke="#222" stroke-width="0.6"/>
<circle cx="384.5" cy="50.9" r="4.45" fill="#0d8984" stroke="#222" stroke-width="0.6"/>
<circle cx="381.4" cy="55.1" r="4.45" fill="#0d8984" stroke="#222" stroke-width="0.6"/>
<circle cx="376.2" cy="64.5" r="4.45" fill="#0d8984" stroke="#222" stroke-width="0.6"/>
<circle cx="381.4" cy="64.5" r="4.45" fill="#0d8984" stroke="#222" stroke-width="0.6"/>
<circle cx="384.5" cy="69.8" r="4.45" fill="#0d8984" stroke="#222" stroke-width="0.6"/>
<circle cx="377.2" cy="74" r="4.45" fill="#0d8984" stroke="#222" stroke-width="0.6"/>
<circle cx="386.6" cy="79.2" r="4.45" fill="#0d8984" stroke="#222" stroke-width="0.6"/>
<circle cx="379.3" cy="84.4" r="4.45" fill="#0d8984" stroke="#222" stroke-width="0.6"/>
<circle cx="414.4" cy="32.4" r="4.45" fill="#e9786a" stroke="#222" stroke-width="0.6"/>
<circle cx="428.5" cy="32.4" r="4.45" fill="#e9786a" stroke="#222" stroke-width="0.6"/>
<circle cx="427.4" cy="34.3" r="4.45" fill="#e9786a" stroke="#222" stroke-width="0.6"/>
<circle cx="430.6" cy="41.4" r="4.45" fill="#e9786a" stroke="#222" stroke-width="0.6"/>
<circle cx="409.2" cy="44.8" r="4.45" fill="#e9786a" stroke="#222" stroke-width="0.6"/>
<circle cx="410.3" cy="55.7" r="4.45" fill="#e9786a" stroke="#222" stroke-width="0.6"/>
<circle cx="407.3" cy="59.4" r="4.45" fill="#e9786a" stroke="#222" stroke-width="0.6"/>
<circle cx="415.5" cy="66.5" r="4.45" fill="#e9786a" stroke="#222" stroke-width="0.6"/>
<circle cx="404.7" cy="70.9" r="4.45" fill="#e9786a" stroke="#222" stroke-width="0.6"/>
<circle cx="407" cy="72.9" r="4.45" fill="#e9786a" stroke="#222" stroke-width="0.6"/>
<circle cx="404.9" cy="76.6" r="4.45" fill="#e9786a" stroke="#222" stroke-width="0.6"/>
<circle cx="409.6" cy="81.3" r="4.45" fill="#e9786a" stroke="#222" stroke-width="0.6"/>
<circle cx="419.1" cy="81.3" r="4.45" fill="#e9786a" stroke="#222" stroke-width="0.6"/>
<circle cx="401.3" cy="84.4" r="4.45" fill="#e9786a" stroke="#222" stroke-width="0.6"/>
<circle cx="400.2" cy="88.6" r="4.45" fill="#e9786a" stroke="#222" stroke-width="0.6"/>
<circle cx="413.8" cy="91.7" r="4.45" fill="#e9786a" stroke="#222" stroke-width="0.6"/>
<circle cx="399.2" cy="93.8" r="4.45" fill="#e9786a" stroke="#222" stroke-width="0.6"/>
<circle cx="402.3" cy="84.2" r="4.45" fill="#e9786a" stroke="#222" stroke-width="0.6"/>
<circle cx="408.6" cy="81.6" r="4.45" fill="#e9786a" stroke="#222" stroke-width="0.6"/>
<circle cx="417" cy="82.1" r="4.45" fill="#e9786a" stroke="#222" stroke-width="0.6"/>
<circle cx="407.3" cy="72.1" r="4.45" fill="#e9786a" stroke="#222" stroke-width="0.6"/>
<circle cx="402.6" cy="84.1" r="4.45" fill="#e9786a" stroke="#222" stroke-width="0.6"/>
<circle cx="413.6" cy="92" r="4.45" fill="#e9786a" stroke="#222" stroke-width="0.6"/>
<circle cx="400.2" cy="93.6" r="4.45" fill="#e9786a" stroke="#222" stroke-width="0.6"/>
<circle cx="509.1" cy="54.1" r="4.45" fill="#e9786a" stroke="#222" stroke-width="0.6"/>
<circle cx="489" cy="71.1" r="4.45" fill="#e9786a" stroke="#222" stroke-width="0.6"/>
<circle cx="489" cy="78" r="4.45" fill="#e9786a" stroke="#222" stroke-width="0.6"/>
<circle cx="494.5" cy="75" r="4.45" fill="#e9786a" stroke="#222" stroke-width="0.6"/>
<circle cx="546.5" cy="62.6" r="4.45" fill="#e9786a" stroke="#222" stroke-width="0.6"/>
<circle cx="547" cy="71.1" r="4.45" fill="#e9786a" stroke="#222" stroke-width="0.6"/>
<circle cx="552.9" cy="71.1" r="4.45" fill="#e9786a" stroke="#222" stroke-width="0.6"/>
<text x="414.6" y="166.6" font-family="Liberation Serif" font-weight="bold" font-size="13.95">Log<tspan font-size="8.3" dy="3.8">2</tspan><tspan dy="-3.8">(Fold change)</tspan></text>
<text x="0" y="0" font-family="Liberation Serif" font-weight="bold" font-size="13.95" text-anchor="middle" transform="translate(329.5 77.5) rotate(-90)">-Log<tspan font-size="8.3" dy="3.8">10</tspan><tspan dy="-3.8">(FDR)</tspan></text>
<text x="318.7" y="16.1" font-family="Liberation Serif" font-weight="bold" font-size="20" text-anchor="start" >B</text>
<rect x="575.5" y="9" width="91.2" height="46.4" fill="#fff" stroke="#b8b8b8" stroke-width="0.8"/>
<circle cx="583.8" cy="19.3" r="4.1" fill="#e9786a" stroke="#555" stroke-width="0.5"/>
<text x="591.5" y="22.9" font-family="Liberation Serif" font-weight="bold" font-size="10.35" text-anchor="start" >Up-regulated</text>
<circle cx="583.8" cy="31.8" r="4.1" fill="#c4c4c4" stroke="#555" stroke-width="0.5"/>
<text x="591.5" y="35.4" font-family="Liberation Serif" font-weight="bold" font-size="10.35" text-anchor="start" >Not-significant</text>
<circle cx="583.8" cy="44.3" r="4.1" fill="#0d8984" stroke="#555" stroke-width="0.5"/>
<text x="591.5" y="47.9" font-family="Liberation Serif" font-weight="bold" font-size="10.35" text-anchor="start" >Down-regulated</text>
<line x1="404.4" y1="185" x2="404.4" y2="324.5" stroke="#80808c" stroke-width="1.1"/>
<line x1="347.6" y1="309.5" x2="575.9" y2="309.5" stroke="#808084" stroke-width="1.1"/>
<line x1="347.6" y1="189.0" x2="347.6" y2="324.5" stroke="#9a9aa4" stroke-width="1.3"/>
<line x1="347.6" y1="324.5" x2="572.0" y2="324.5" stroke="#b0b0b6" stroke-width="1.5"/>
<path d="M347.6 186 L346 191 L349.2 191 Z" fill="#1a1a2e"/>
<path d="M575 324.5 L569.8 323 L569.8 326 Z" fill="#1a1a2e"/>
<line x1="347.6" y1="324.5" x2="347.6" y2="322.5" stroke="#999" stroke-width="0.8"/>
<text x="347.6" y="336.1" font-family="Liberation Serif" font-weight="bold" font-size="10" text-anchor="middle" >-4</text>
<line x1="376" y1="324.5" x2="376" y2="322.5" stroke="#999" stroke-width="0.8"/>
<text x="376" y="336.1" font-family="Liberation Serif" font-weight="bold" font-size="10" text-anchor="middle" >-2</text>
<line x1="404.4" y1="324.5" x2="404.4" y2="322.5" stroke="#999" stroke-width="0.8"/>
<text x="404.4" y="336.1" font-family="Liberation Serif" font-weight="bold" font-size="10" text-anchor="middle" >0</text>
<line x1="432.8" y1="324.5" x2="432.8" y2="322.5" stroke="#999" stroke-width="0.8"/>
<text x="432.8" y="336.1" font-family="Liberation Serif" font-weight="bold" font-size="10" text-anchor="middle" >2</text>
<line x1="461.2" y1="324.5" x2="461.2" y2="322.5" stroke="#999" stroke-width="0.8"/>
<text x="461.2" y="336.1" font-family="Liberation Serif" font-weight="bold" font-size="10" text-anchor="middle" >4</text>
<line x1="489.6" y1="324.5" x2="489.6" y2="322.5" stroke="#999" stroke-width="0.8"/>
<text x="489.6" y="336.1" font-family="Liberation Serif" font-weight="bold" font-size="10" text-anchor="middle" >6</text>
<line x1="518" y1="324.5" x2="518" y2="322.5" stroke="#999" stroke-width="0.8"/>
<text x="518" y="336.1" font-family="Liberation Serif" font-weight="bold" font-size="10" text-anchor="middle" >8</text>
<line x1="546.4" y1="324.5" x2="546.4" y2="322.5" stroke="#999" stroke-width="0.8"/>
<text x="546.4" y="336.1" font-family="Liberation Serif" font-weight="bold" font-size="10" text-anchor="middle" >10</text>
<line x1="347.6" y1="309.5" x2="350.1" y2="309.5" stroke="#6e6e84" stroke-width="0.8"/>
<text x="0" y="0" font-family="Liberation Serif" font-weight="bold" font-size="10" text-anchor="end" transform="translate(345.6 313.7) scale(0.9 1)" >0</text>
<line x1="347.6" y1="278.4" x2="350.1" y2="278.4" stroke="#6e6e84" stroke-width="0.8"/>
<text x="0" y="0" font-family="Liberation Serif" font-weight="bold" font-size="10" text-anchor="end" transform="translate(345.6 282.6) scale(0.9 1)" >1</text>
<line x1="347.6" y1="247.3" x2="350.1" y2="247.3" stroke="#6e6e84" stroke-width="0.8"/>
<text x="0" y="0" font-family="Liberation Serif" font-weight="bold" font-size="10" text-anchor="end" transform="translate(345.6 251.5) scale(0.9 1)" >2</text>
<line x1="347.6" y1="216.2" x2="350.1" y2="216.2" stroke="#6e6e84" stroke-width="0.8"/>
<text x="0" y="0" font-family="Liberation Serif" font-weight="bold" font-size="10" text-anchor="end" transform="translate(345.6 220.4) scale(0.9 1)" >3</text>
<circle cx="379.4" cy="271.2" r="4.45" fill="#c4c4c4" stroke="#222" stroke-width="0.6"/>
<circle cx="409.2" cy="270.6" r="4.45" fill="#c4c4c4" stroke="#222" stroke-width="0.6"/>
<circle cx="389.8" cy="275.9" r="4.45" fill="#c4c4c4" stroke="#222" stroke-width="0.6"/>
<circle cx="399.2" cy="276.4" r="4.45" fill="#c4c4c4" stroke="#222" stroke-width="0.6"/>
<circle cx="388.3" cy="282.7" r="4.45" fill="#c4c4c4" stroke="#222" stroke-width="0.6"/>
<circle cx="395.6" cy="282.7" r="4.45" fill="#c4c4c4" stroke="#222" stroke-width="0.6"/>
<circle cx="408.1" cy="282.1" r="4.45" fill="#c4c4c4" stroke="#222" stroke-width="0.6"/>
<circle cx="415.5" cy="283.7" r="4.45" fill="#c4c4c4" stroke="#222" stroke-width="0.6"/>
<circle cx="371.5" cy="289.5" r="4.45" fill="#c4c4c4" stroke="#222" stroke-width="0.6"/>
<circle cx="378.8" cy="288.4" r="4.45" fill="#c4c4c4" stroke="#222" stroke-width="0.6"/>
<circle cx="384.1" cy="290" r="4.45" fill="#c4c4c4" stroke="#222" stroke-width="0.6"/>
<circle cx="391.4" cy="291" r="4.45" fill="#c4c4c4" stroke="#222" stroke-width="0.6"/>
<circle cx="401.3" cy="287.9" r="4.45" fill="#c4c4c4" stroke="#222" stroke-width="0.6"/>
<circle cx="408.1" cy="290" r="4.45" fill="#c4c4c4" stroke="#222" stroke-width="0.6"/>
<circle cx="416.5" cy="290" r="4.45" fill="#c4c4c4" stroke="#222" stroke-width="0.6"/>
<circle cx="419.6" cy="295.7" r="4.45" fill="#c4c4c4" stroke="#222" stroke-width="0.6"/>
<circle cx="388.3" cy="294.2" r="4.45" fill="#c4c4c4" stroke="#222" stroke-width="0.6"/>
<circle cx="394.5" cy="297.3" r="4.45" fill="#c4c4c4" stroke="#222" stroke-width="0.6"/>
<circle cx="401.9" cy="294.2" r="4.45" fill="#c4c4c4" stroke="#222" stroke-width="0.6"/>
<circle cx="409.2" cy="297.3" r="4.45" fill="#c4c4c4" stroke="#222" stroke-width="0.6"/>
<circle cx="386.2" cy="301.5" r="4.45" fill="#c4c4c4" stroke="#222" stroke-width="0.6"/>
<circle cx="404" cy="303.6" r="4.45" fill="#c4c4c4" stroke="#222" stroke-width="0.6"/>
<circle cx="415.5" cy="304.6" r="4.45" fill="#c4c4c4" stroke="#222" stroke-width="0.6"/>
<circle cx="423.8" cy="302.5" r="4.45" fill="#c4c4c4" stroke="#222" stroke-width="0.6"/>
<circle cx="373.6" cy="307.3" r="4.45" fill="#c4c4c4" stroke="#222" stroke-width="0.6"/>
<circle cx="377.8" cy="308.3" r="4.45" fill="#c4c4c4" stroke="#222" stroke-width="0.6"/>
<circle cx="386.2" cy="307.8" r="4.45" fill="#c4c4c4" stroke="#222" stroke-width="0.6"/>
<circle cx="395.6" cy="308.3" r="4.45" fill="#c4c4c4" stroke="#222" stroke-width="0.6"/>
<circle cx="407.1" cy="308.8" r="4.45" fill="#c4c4c4" stroke="#222" stroke-width="0.6"/>
<circle cx="398.7" cy="301.5" r="4.45" fill="#c4c4c4" stroke="#222" stroke-width="0.6"/>
<circle cx="391.4" cy="303.6" r="4.45" fill="#c4c4c4" stroke="#222" stroke-width="0.6"/>
<circle cx="411.3" cy="303.6" r="4.45" fill="#c4c4c4" stroke="#222" stroke-width="0.6"/>
<circle cx="380.9" cy="284.8" r="4.45" fill="#c4c4c4" stroke="#222" stroke-width="0.6"/>
<circle cx="375.7" cy="284.8" r="4.45" fill="#c4c4c4" stroke="#222" stroke-width="0.6"/>
<circle cx="382.3" cy="283.6" r="4.45" fill="#c4c4c4" stroke="#222" stroke-width="0.6"/>
<circle cx="385.6" cy="289.8" r="4.45" fill="#c4c4c4" stroke="#222" stroke-width="0.6"/>
<circle cx="389.7" cy="293.9" r="4.45" fill="#c4c4c4" stroke="#222" stroke-width="0.6"/>
<circle cx="386.4" cy="304.7" r="4.45" fill="#c4c4c4" stroke="#222" stroke-width="0.6"/>
<circle cx="384.7" cy="308.9" r="4.45" fill="#c4c4c4" stroke="#222" stroke-width="0.6"/>
<circle cx="407.6" cy="282.1" r="4.45" fill="#c4c4c4" stroke="#222" stroke-width="0.6"/>
<circle cx="415.5" cy="284.2" r="4.45" fill="#c4c4c4" stroke="#222" stroke-width="0.6"/>
<circle cx="408.1" cy="290.5" r="4.45" fill="#c4c4c4" stroke="#222" stroke-width="0.6"/>
<circle cx="416.5" cy="291" r="4.45" fill="#c4c4c4" stroke="#222" stroke-width="0.6"/>
<circle cx="420.2" cy="296.3" r="4.45" fill="#c4c4c4" stroke="#222" stroke-width="0.6"/>
<circle cx="427.5" cy="293.7" r="4.45" fill="#c4c4c4" stroke="#222" stroke-width="0.6"/>
<circle cx="432.7" cy="293.7" r="4.45" fill="#c4c4c4" stroke="#222" stroke-width="0.6"/>
<circle cx="437.4" cy="287.4" r="4.45" fill="#c4c4c4" stroke="#222" stroke-width="0.6"/>
<circle cx="441.6" cy="288.4" r="4.45" fill="#c4c4c4" stroke="#222" stroke-width="0.6"/>
<circle cx="435.9" cy="301" r="4.45" fill="#c4c4c4" stroke="#222" stroke-width="0.6"/>
<circle cx="424.4" cy="303.1" r="4.45" fill="#c4c4c4" stroke="#222" stroke-width="0.6"/>
<circle cx="415.5" cy="305.7" r="4.45" fill="#c4c4c4" stroke="#222" stroke-width="0.6"/>
<circle cx="408.1" cy="303.6" r="4.45" fill="#c4c4c4" stroke="#222" stroke-width="0.6"/>
<circle cx="409.2" cy="298.4" r="4.45" fill="#c4c4c4" stroke="#222" stroke-width="0.6"/>
<circle cx="398" cy="281" r="4.45" fill="#c4c4c4" stroke="#222" stroke-width="0.6"/>
<circle cx="402" cy="300" r="4.45" fill="#c4c4c4" stroke="#222" stroke-width="0.6"/>
<circle cx="396" cy="305" r="4.45" fill="#c4c4c4" stroke="#222" stroke-width="0.6"/>
<circle cx="400" cy="308" r="4.45" fill="#c4c4c4" stroke="#222" stroke-width="0.6"/>
<circle cx="392" cy="308" r="4.45" fill="#c4c4c4" stroke="#222" stroke-width="0.6"/>
<circle cx="404" cy="296" r="4.45" fill="#c4c4c4" stroke="#222" stroke-width="0.6"/>
<circle cx="388.9" cy="275.2" r="4.45" fill="#c4c4c4" stroke="#222" stroke-width="0.6"/>
<circle cx="399" cy="276.5" r="4.45" fill="#c4c4c4" stroke="#222" stroke-width="0.6"/>
<circle cx="388.9" cy="283.3" r="4.45" fill="#c4c4c4" stroke="#222" stroke-width="0.6"/>
<circle cx="396.3" cy="283.3" r="4.45" fill="#c4c4c4" stroke="#222" stroke-width="0.6"/>
<circle cx="404.4" cy="291.3" r="4.45" fill="#c4c4c4" stroke="#222" stroke-width="0.6"/>
<circle cx="395" cy="298" r="4.45" fill="#c4c4c4" stroke="#222" stroke-width="0.6"/>
<circle cx="400.4" cy="302.1" r="4.45" fill="#c4c4c4" stroke="#222" stroke-width="0.6"/>
<circle cx="404.4" cy="304.8" r="4.45" fill="#c4c4c4" stroke="#222" stroke-width="0.6"/>
<circle cx="386.9" cy="302.1" r="4.45" fill="#c4c4c4" stroke="#222" stroke-width="0.6"/>
<circle cx="392.3" cy="306.1" r="4.45" fill="#c4c4c4" stroke="#222" stroke-width="0.6"/>
<circle cx="411.1" cy="302.1" r="4.45" fill="#c4c4c4" stroke="#222" stroke-width="0.6"/>
<circle cx="416.5" cy="306.1" r="4.45" fill="#c4c4c4" stroke="#222" stroke-width="0.6"/>
<circle cx="423.3" cy="303.5" r="4.45" fill="#c4c4c4" stroke="#222" stroke-width="0.6"/>
<circle cx="395" cy="308.8" r="4.45" fill="#c4c4c4" stroke="#222" stroke-width="0.6"/>
<circle cx="407.1" cy="308.8" r="4.45" fill="#c4c4c4" stroke="#222" stroke-width="0.6"/>
<circle cx="419.2" cy="295.4" r="4.45" fill="#c4c4c4" stroke="#222" stroke-width="0.6"/>
<circle cx="430" cy="294" r="4.45" fill="#c4c4c4" stroke="#222" stroke-width="0.6"/>
<circle cx="382.8" cy="198.4" r="4.45" fill="#0d8984" stroke="#222" stroke-width="0.6"/>
<circle cx="380.8" cy="218.7" r="4.45" fill="#0d8984" stroke="#222" stroke-width="0.6"/>
<circle cx="389.8" cy="218.7" r="4.45" fill="#0d8984" stroke="#222" stroke-width="0.6"/>
<circle cx="392.7" cy="219.1" r="4.45" fill="#0d8984" stroke="#222" stroke-width="0.6"/>
<circle cx="374.5" cy="228.2" r="4.45" fill="#0d8984" stroke="#222" stroke-width="0.6"/>
<circle cx="381.5" cy="226.2" r="4.45" fill="#0d8984" stroke="#222" stroke-width="0.6"/>
<circle cx="389" cy="225.3" r="4.45" fill="#0d8984" stroke="#222" stroke-width="0.6"/>
<circle cx="395.6" cy="227.4" r="4.45" fill="#0d8984" stroke="#222" stroke-width="0.6"/>
<circle cx="389" cy="232.4" r="4.45" fill="#0d8984" stroke="#222" stroke-width="0.6"/>
<circle cx="395.2" cy="232.4" r="4.45" fill="#0d8984" stroke="#222" stroke-width="0.6"/>
<circle cx="379.4" cy="237.3" r="4.45" fill="#0d8984" stroke="#222" stroke-width="0.6"/>
<circle cx="384" cy="239.8" r="4.45" fill="#0d8984" stroke="#222" stroke-width="0.6"/>
<circle cx="391.5" cy="238.2" r="4.45" fill="#0d8984" stroke="#222" stroke-width="0.6"/>
<circle cx="397.3" cy="240.7" r="4.45" fill="#0d8984" stroke="#222" stroke-width="0.6"/>
<circle cx="379" cy="243.1" r="4.45" fill="#0d8984" stroke="#222" stroke-width="0.6"/>
<circle cx="381.5" cy="247.3" r="4.45" fill="#0d8984" stroke="#222" stroke-width="0.6"/>
<circle cx="388.1" cy="249.8" r="4.45" fill="#0d8984" stroke="#222" stroke-width="0.6"/>
<circle cx="392.3" cy="244.8" r="4.45" fill="#0d8984" stroke="#222" stroke-width="0.6"/>
<circle cx="395.6" cy="248.1" r="4.45" fill="#0d8984" stroke="#222" stroke-width="0.6"/>
<circle cx="368.3" cy="249.6" r="4.45" fill="#0d8984" stroke="#222" stroke-width="0.6"/>
<circle cx="385.1" cy="234.7" r="4.45" fill="#0d8984" stroke="#222" stroke-width="0.6"/>
<circle cx="382.5" cy="242" r="4.45" fill="#0d8984" stroke="#222" stroke-width="0.6"/>
<circle cx="386.9" cy="262.2" r="4.45" fill="#0d8984" stroke="#222" stroke-width="0.6"/>
<circle cx="372.8" cy="266.3" r="4.45" fill="#0d8984" stroke="#222" stroke-width="0.6"/>
<circle cx="392.3" cy="264.7" r="4.45" fill="#0d8984" stroke="#222" stroke-width="0.6"/>
<circle cx="397.3" cy="265.5" r="4.45" fill="#0d8984" stroke="#222" stroke-width="0.6"/>
<circle cx="386.7" cy="262.3" r="4.45" fill="#0d8984" stroke="#222" stroke-width="0.6"/>
<circle cx="388.3" cy="268.5" r="4.45" fill="#0d8984" stroke="#222" stroke-width="0.6"/>
<circle cx="391.4" cy="265.4" r="4.45" fill="#0d8984" stroke="#222" stroke-width="0.6"/>
<circle cx="396.1" cy="264.9" r="4.45" fill="#0d8984" stroke="#222" stroke-width="0.6"/>
<circle cx="397.1" cy="269.1" r="4.45" fill="#0d8984" stroke="#222" stroke-width="0.6"/>
<circle cx="373" cy="267.4" r="4.45" fill="#0d8984" stroke="#222" stroke-width="0.6"/>
<circle cx="417.3" cy="220.4" r="4.45" fill="#e9786a" stroke="#222" stroke-width="0.6"/>
<circle cx="419.9" cy="219.4" r="4.45" fill="#e9786a" stroke="#222" stroke-width="0.6"/>
<circle cx="421.5" cy="220.4" r="4.45" fill="#e9786a" stroke="#222" stroke-width="0.6"/>
<circle cx="415.5" cy="231.4" r="4.45" fill="#e9786a" stroke="#222" stroke-width="0.6"/>
<circle cx="415.5" cy="246.9" r="4.45" fill="#e9786a" stroke="#222" stroke-width="0.6"/>
<circle cx="426.4" cy="247.3" r="4.45" fill="#e9786a" stroke="#222" stroke-width="0.6"/>
<circle cx="428.5" cy="267.5" r="4.45" fill="#e9786a" stroke="#222" stroke-width="0.6"/>
<circle cx="527.5" cy="232.3" r="4.45" fill="#e9786a" stroke="#222" stroke-width="0.6"/>
<circle cx="549.5" cy="239.6" r="4.45" fill="#e9786a" stroke="#222" stroke-width="0.6"/>
<text x="415.8" y="349.1" font-family="Liberation Serif" font-weight="bold" font-size="13.95">Log<tspan font-size="8.3" dy="3.8">2</tspan><tspan dy="-3.8">(Fold change)</tspan></text>
<text x="0" y="0" font-family="Liberation Serif" font-weight="bold" font-size="13.95" text-anchor="middle" transform="translate(331.5 260) rotate(-90)">-Log<tspan font-size="8.3" dy="3.8">10</tspan><tspan dy="-3.8">(FDR)</tspan></text>
<text x="317.4" y="201.5" font-family="Liberation Serif" font-weight="bold" font-size="20" text-anchor="start" >D</text>
<rect x="576.6" y="184.2" width="90.4" height="47.2" fill="#fff" stroke="#b8b8b8" stroke-width="0.8"/>
<circle cx="584.9" cy="194.5" r="4.1" fill="#e9786a" stroke="#555" stroke-width="0.5"/>
<text x="592.6" y="198.1" font-family="Liberation Serif" font-weight="bold" font-size="10.35" text-anchor="start" >Up-regulated</text>
<circle cx="584.9" cy="207" r="4.1" fill="#c4c4c4" stroke="#555" stroke-width="0.5"/>
<text x="592.6" y="210.6" font-family="Liberation Serif" font-weight="bold" font-size="10.35" text-anchor="start" >Not-significant</text>
<circle cx="584.9" cy="219.5" r="4.1" fill="#0d8984" stroke="#555" stroke-width="0.5"/>
<text x="592.6" y="223.1" font-family="Liberation Serif" font-weight="bold" font-size="10.35" text-anchor="start" >Down-regulated</text>
<line x1="405.5" y1="365" x2="405.5" y2="507.2" stroke="#70707c" stroke-width="1.1"/>
<line x1="348.0" y1="487.1" x2="577.9" y2="487.1" stroke="#6c6c78" stroke-width="1.1"/>
<line x1="348.0" y1="369.0" x2="348.0" y2="507.2" stroke="#7e7e8c" stroke-width="1.3"/>
<line x1="348.0" y1="507.2" x2="574.3" y2="507.2" stroke="#808088" stroke-width="1.5"/>
<path d="M348 366 L346.4 371 L349.6 371 Z" fill="#1a1a2e"/>
<path d="M577.3 507.2 L572.1 505.7 L572.1 508.7 Z" fill="#1a1a2e"/>
<line x1="348.1" y1="507.2" x2="348.1" y2="505.2" stroke="#999" stroke-width="0.8"/>
<text x="348.1" y="518.8" font-family="Liberation Serif" font-weight="bold" font-size="10" text-anchor="middle" >-4</text>
<line x1="376.8" y1="507.2" x2="376.8" y2="505.2" stroke="#999" stroke-width="0.8"/>
<text x="376.8" y="518.8" font-family="Liberation Serif" font-weight="bold" font-size="10" text-anchor="middle" >-2</text>
<line x1="405.5" y1="507.2" x2="405.5" y2="505.2" stroke="#999" stroke-width="0.8"/>
<text x="405.5" y="518.8" font-family="Liberation Serif" font-weight="bold" font-size="10" text-anchor="middle" >0</text>
<line x1="434.2" y1="507.2" x2="434.2" y2="505.2" stroke="#999" stroke-width="0.8"/>
<text x="434.2" y="518.8" font-family="Liberation Serif" font-weight="bold" font-size="10" text-anchor="middle" >2</text>
<line x1="462.9" y1="507.2" x2="462.9" y2="505.2" stroke="#999" stroke-width="0.8"/>
<text x="462.9" y="518.8" font-family="Liberation Serif" font-weight="bold" font-size="10" text-anchor="middle" >4</text>
<line x1="491.6" y1="507.2" x2="491.6" y2="505.2" stroke="#999" stroke-width="0.8"/>
<text x="491.6" y="518.8" font-family="Liberation Serif" font-weight="bold" font-size="10" text-anchor="middle" >6</text>
<line x1="520.3" y1="507.2" x2="520.3" y2="505.2" stroke="#999" stroke-width="0.8"/>
<text x="520.3" y="518.8" font-family="Liberation Serif" font-weight="bold" font-size="10" text-anchor="middle" >8</text>
<line x1="549" y1="507.2" x2="549" y2="505.2" stroke="#999" stroke-width="0.8"/>
<text x="549" y="518.8" font-family="Liberation Serif" font-weight="bold" font-size="10" text-anchor="middle" >10</text>
<line x1="348.0" y1="507.3" x2="350.5" y2="507.3" stroke="#6e6e84" stroke-width="0.8"/>
<text x="0" y="0" font-family="Liberation Serif" font-weight="bold" font-size="10" text-anchor="end" transform="translate(346 511.5) scale(0.9 1)" >-1</text>
<line x1="348.0" y1="487.1" x2="350.5" y2="487.1" stroke="#6e6e84" stroke-width="0.8"/>
<text x="0" y="0" font-family="Liberation Serif" font-weight="bold" font-size="10" text-anchor="end" transform="translate(346 491.3) scale(0.9 1)" >0</text>
<line x1="348.0" y1="466.9" x2="350.5" y2="466.9" stroke="#6e6e84" stroke-width="0.8"/>
<text x="0" y="0" font-family="Liberation Serif" font-weight="bold" font-size="10" text-anchor="end" transform="translate(346 471.1) scale(0.9 1)" >1</text>
<line x1="348.0" y1="446.7" x2="350.5" y2="446.7" stroke="#6e6e84" stroke-width="0.8"/>
<text x="0" y="0" font-family="Liberation Serif" font-weight="bold" font-size="10" text-anchor="end" transform="translate(346 450.9) scale(0.9 1)" >2</text>
<line x1="348.0" y1="426.5" x2="350.5" y2="426.5" stroke="#6e6e84" stroke-width="0.8"/>
<text x="0" y="0" font-family="Liberation Serif" font-weight="bold" font-size="10" text-anchor="end" transform="translate(346 430.7) scale(0.9 1)" >3</text>
<line x1="348.0" y1="406.3" x2="350.5" y2="406.3" stroke="#6e6e84" stroke-width="0.8"/>
<text x="0" y="0" font-family="Liberation Serif" font-weight="bold" font-size="10" text-anchor="end" transform="translate(346 410.5) scale(0.9 1)" >4</text>
<line x1="348.0" y1="386.1" x2="350.5" y2="386.1" stroke="#6e6e84" stroke-width="0.8"/>
<text x="0" y="0" font-family="Liberation Serif" font-weight="bold" font-size="10" text-anchor="end" transform="translate(346 390.3) scale(0.9 1)" >5</text>
<circle cx="388" cy="464" r="4.45" fill="#c4c4c4" stroke="#222" stroke-width="0.6"/>
<circle cx="396.9" cy="464.5" r="4.45" fill="#c4c4c4" stroke="#222" stroke-width="0.6"/>
<circle cx="404.2" cy="464.5" r="4.45" fill="#c4c4c4" stroke="#222" stroke-width="0.6"/>
<circle cx="412" cy="466.1" r="4.45" fill="#c4c4c4" stroke="#222" stroke-width="0.6"/>
<circle cx="420.9" cy="465.6" r="4.45" fill="#c4c4c4" stroke="#222" stroke-width="0.6"/>
<circle cx="391.1" cy="470.3" r="4.45" fill="#c4c4c4" stroke="#222" stroke-width="0.6"/>
<circle cx="398.9" cy="470.8" r="4.45" fill="#c4c4c4" stroke="#222" stroke-width="0.6"/>
<circle cx="408.4" cy="470.8" r="4.45" fill="#c4c4c4" stroke="#222" stroke-width="0.6"/>
<circle cx="417.8" cy="471.9" r="4.45" fill="#c4c4c4" stroke="#222" stroke-width="0.6"/>
<circle cx="372.8" cy="475" r="4.45" fill="#c4c4c4" stroke="#222" stroke-width="0.6"/>
<circle cx="385.3" cy="475" r="4.45" fill="#c4c4c4" stroke="#222" stroke-width="0.6"/>
<circle cx="393.7" cy="476" r="4.45" fill="#c4c4c4" stroke="#222" stroke-width="0.6"/>
<circle cx="402.1" cy="474" r="4.45" fill="#c4c4c4" stroke="#222" stroke-width="0.6"/>
<circle cx="406.3" cy="477.1" r="4.45" fill="#c4c4c4" stroke="#222" stroke-width="0.6"/>
<circle cx="413.6" cy="477.1" r="4.45" fill="#c4c4c4" stroke="#222" stroke-width="0.6"/>
<circle cx="420.9" cy="478.1" r="4.45" fill="#c4c4c4" stroke="#222" stroke-width="0.6"/>
<circle cx="373.8" cy="483.4" r="4.45" fill="#c4c4c4" stroke="#222" stroke-width="0.6"/>
<circle cx="382.2" cy="483.4" r="4.45" fill="#c4c4c4" stroke="#222" stroke-width="0.6"/>
<circle cx="388.5" cy="482.8" r="4.45" fill="#c4c4c4" stroke="#222" stroke-width="0.6"/>
<circle cx="394.8" cy="485.5" r="4.45" fill="#c4c4c4" stroke="#222" stroke-width="0.6"/>
<circle cx="401" cy="483.4" r="4.45" fill="#c4c4c4" stroke="#222" stroke-width="0.6"/>
<circle cx="406.3" cy="483.4" r="4.45" fill="#c4c4c4" stroke="#222" stroke-width="0.6"/>
<circle cx="411.5" cy="484.4" r="4.45" fill="#c4c4c4" stroke="#222" stroke-width="0.6"/>
<circle cx="419.9" cy="485.5" r="4.45" fill="#c4c4c4" stroke="#222" stroke-width="0.6"/>
<circle cx="400" cy="488.6" r="4.45" fill="#c4c4c4" stroke="#222" stroke-width="0.6"/>
<circle cx="408.4" cy="488.6" r="4.45" fill="#c4c4c4" stroke="#222" stroke-width="0.6"/>
<circle cx="414.6" cy="489.6" r="4.45" fill="#c4c4c4" stroke="#222" stroke-width="0.6"/>
<circle cx="425.5" cy="462" r="4.45" fill="#c4c4c4" stroke="#222" stroke-width="0.6"/>
<circle cx="430.4" cy="464.2" r="4.45" fill="#c4c4c4" stroke="#222" stroke-width="0.6"/>
<circle cx="422.1" cy="465.3" r="4.45" fill="#c4c4c4" stroke="#222" stroke-width="0.6"/>
<circle cx="438.7" cy="470.8" r="4.45" fill="#c4c4c4" stroke="#222" stroke-width="0.6"/>
<circle cx="413.3" cy="467.5" r="4.45" fill="#c4c4c4" stroke="#222" stroke-width="0.6"/>
<circle cx="421" cy="477.4" r="4.45" fill="#c4c4c4" stroke="#222" stroke-width="0.6"/>
<circle cx="426.6" cy="482.4" r="4.45" fill="#c4c4c4" stroke="#222" stroke-width="0.6"/>
<circle cx="421" cy="485.1" r="4.45" fill="#c4c4c4" stroke="#222" stroke-width="0.6"/>
<circle cx="414.4" cy="481.8" r="4.45" fill="#c4c4c4" stroke="#222" stroke-width="0.6"/>
<circle cx="414.4" cy="488.5" r="4.45" fill="#c4c4c4" stroke="#222" stroke-width="0.6"/>
<circle cx="372.7" cy="475.4" r="4.45" fill="#c4c4c4" stroke="#222" stroke-width="0.6"/>
<circle cx="374.1" cy="483" r="4.45" fill="#c4c4c4" stroke="#222" stroke-width="0.6"/>
<circle cx="383" cy="483" r="4.45" fill="#c4c4c4" stroke="#222" stroke-width="0.6"/>
<circle cx="388.4" cy="483" r="4.45" fill="#c4c4c4" stroke="#222" stroke-width="0.6"/>
<circle cx="387.5" cy="464.2" r="4.45" fill="#c4c4c4" stroke="#222" stroke-width="0.6"/>
<circle cx="391.1" cy="470.5" r="4.45" fill="#c4c4c4" stroke="#222" stroke-width="0.6"/>
<circle cx="386.6" cy="475.9" r="4.45" fill="#c4c4c4" stroke="#222" stroke-width="0.6"/>
<circle cx="395.6" cy="465.1" r="4.45" fill="#c4c4c4" stroke="#222" stroke-width="0.6"/>
<circle cx="397" cy="480" r="4.45" fill="#c4c4c4" stroke="#222" stroke-width="0.6"/>
<circle cx="404" cy="489" r="4.45" fill="#c4c4c4" stroke="#222" stroke-width="0.6"/>
<circle cx="396" cy="489" r="4.45" fill="#c4c4c4" stroke="#222" stroke-width="0.6"/>
<circle cx="410" cy="479" r="4.45" fill="#c4c4c4" stroke="#222" stroke-width="0.6"/>
<circle cx="398" cy="478" r="4.45" fill="#c4c4c4" stroke="#222" stroke-width="0.6"/>
<circle cx="402" cy="482" r="4.45" fill="#c4c4c4" stroke="#222" stroke-width="0.6"/>
<circle cx="395" cy="486" r="4.45" fill="#c4c4c4" stroke="#222" stroke-width="0.6"/>
<circle cx="405" cy="490" r="4.45" fill="#c4c4c4" stroke="#222" stroke-width="0.6"/>
<circle cx="400" cy="491" r="4.45" fill="#c4c4c4" stroke="#222" stroke-width="0.6"/>
<circle cx="392" cy="489" r="4.45" fill="#c4c4c4" stroke="#222" stroke-width="0.6"/>
<circle cx="409" cy="486" r="4.45" fill="#c4c4c4" stroke="#222" stroke-width="0.6"/>
<circle cx="386" cy="488" r="4.45" fill="#c4c4c4" stroke="#222" stroke-width="0.6"/>
<circle cx="403" cy="470" r="4.45" fill="#c4c4c4" stroke="#222" stroke-width="0.6"/>
<circle cx="396" cy="474" r="4.45" fill="#c4c4c4" stroke="#222" stroke-width="0.6"/>
<circle cx="368.6" cy="406.4" r="4.45" fill="#0d8984" stroke="#222" stroke-width="0.6"/>
<circle cx="391.1" cy="404.3" r="4.45" fill="#0d8984" stroke="#222" stroke-width="0.6"/>
<circle cx="396.3" cy="415" r="4.45" fill="#0d8984" stroke="#222" stroke-width="0.6"/>
<circle cx="393.7" cy="417.1" r="4.45" fill="#0d8984" stroke="#222" stroke-width="0.6"/>
<circle cx="390.6" cy="422.3" r="4.45" fill="#0d8984" stroke="#222" stroke-width="0.6"/>
<circle cx="395.8" cy="422.3" r="4.45" fill="#0d8984" stroke="#222" stroke-width="0.6"/>
<circle cx="402.1" cy="426.5" r="4.45" fill="#0d8984" stroke="#222" stroke-width="0.6"/>
<circle cx="388.5" cy="430.2" r="4.45" fill="#0d8984" stroke="#222" stroke-width="0.6"/>
<circle cx="387.4" cy="432.8" r="4.45" fill="#0d8984" stroke="#222" stroke-width="0.6"/>
<circle cx="394.8" cy="433.8" r="4.45" fill="#0d8984" stroke="#222" stroke-width="0.6"/>
<circle cx="401" cy="433.8" r="4.45" fill="#0d8984" stroke="#222" stroke-width="0.6"/>
<circle cx="390.6" cy="438" r="4.45" fill="#0d8984" stroke="#222" stroke-width="0.6"/>
<circle cx="399" cy="438" r="4.45" fill="#0d8984" stroke="#222" stroke-width="0.6"/>
<circle cx="403.1" cy="437" r="4.45" fill="#0d8984" stroke="#222" stroke-width="0.6"/>
<circle cx="387.4" cy="433.1" r="4.45" fill="#0d8984" stroke="#222" stroke-width="0.6"/>
<circle cx="394.8" cy="434.2" r="4.45" fill="#0d8984" stroke="#222" stroke-width="0.6"/>
<circle cx="402.1" cy="435.2" r="4.45" fill="#0d8984" stroke="#222" stroke-width="0.6"/>
<circle cx="389.5" cy="439.9" r="4.45" fill="#0d8984" stroke="#222" stroke-width="0.6"/>
<circle cx="396.9" cy="440.5" r="4.45" fill="#0d8984" stroke="#222" stroke-width="0.6"/>
<circle cx="403.1" cy="442.6" r="4.45" fill="#0d8984" stroke="#222" stroke-width="0.6"/>
<circle cx="386.4" cy="448.8" r="4.45" fill="#0d8984" stroke="#222" stroke-width="0.6"/>
<circle cx="386.4" cy="452.5" r="4.45" fill="#0d8984" stroke="#222" stroke-width="0.6"/>
<circle cx="393.7" cy="447.8" r="4.45" fill="#0d8984" stroke="#222" stroke-width="0.6"/>
<circle cx="397.9" cy="454.6" r="4.45" fill="#0d8984" stroke="#222" stroke-width="0.6"/>
<circle cx="391.6" cy="456.2" r="4.45" fill="#0d8984" stroke="#222" stroke-width="0.6"/>
<circle cx="402.1" cy="450.9" r="4.45" fill="#0d8984" stroke="#222" stroke-width="0.6"/>
<circle cx="403.1" cy="456.2" r="4.45" fill="#0d8984" stroke="#222" stroke-width="0.6"/>
<circle cx="387.5" cy="449.9" r="4.45" fill="#0d8984" stroke="#222" stroke-width="0.6"/>
<circle cx="392.9" cy="457" r="4.45" fill="#0d8984" stroke="#222" stroke-width="0.6"/>
<circle cx="390.2" cy="445.4" r="4.45" fill="#0d8984" stroke="#222" stroke-width="0.6"/>
<circle cx="395.6" cy="450.8" r="4.45" fill="#0d8984" stroke="#222" stroke-width="0.6"/>
<circle cx="398" cy="428" r="4.45" fill="#0d8984" stroke="#222" stroke-width="0.6"/>
<circle cx="392" cy="427" r="4.45" fill="#0d8984" stroke="#222" stroke-width="0.6"/>
<circle cx="418.3" cy="386.5" r="4.45" fill="#e9786a" stroke="#222" stroke-width="0.6"/>
<circle cx="416.5" cy="398.3" r="4.45" fill="#e9786a" stroke="#222" stroke-width="0.6"/>
<circle cx="417.3" cy="404.5" r="4.45" fill="#e9786a" stroke="#222" stroke-width="0.6"/>
<circle cx="417.8" cy="411.3" r="4.45" fill="#e9786a" stroke="#222" stroke-width="0.6"/>
<circle cx="416.2" cy="416" r="4.45" fill="#e9786a" stroke="#222" stroke-width="0.6"/>
<circle cx="419.4" cy="423.9" r="4.45" fill="#e9786a" stroke="#222" stroke-width="0.6"/>
<circle cx="409.9" cy="432.8" r="4.45" fill="#e9786a" stroke="#222" stroke-width="0.6"/>
<circle cx="416.7" cy="431.7" r="4.45" fill="#e9786a" stroke="#222" stroke-width="0.6"/>
<circle cx="420.4" cy="432.8" r="4.45" fill="#e9786a" stroke="#222" stroke-width="0.6"/>
<circle cx="409.4" cy="438" r="4.45" fill="#e9786a" stroke="#222" stroke-width="0.6"/>
<circle cx="414.6" cy="437" r="4.45" fill="#e9786a" stroke="#222" stroke-width="0.6"/>
<circle cx="420.9" cy="438" r="4.45" fill="#e9786a" stroke="#222" stroke-width="0.6"/>
<circle cx="410.5" cy="433.1" r="4.45" fill="#e9786a" stroke="#222" stroke-width="0.6"/>
<circle cx="417.8" cy="433.1" r="4.45" fill="#e9786a" stroke="#222" stroke-width="0.6"/>
<circle cx="409.4" cy="441.5" r="4.45" fill="#e9786a" stroke="#222" stroke-width="0.6"/>
<circle cx="415.7" cy="441.5" r="4.45" fill="#e9786a" stroke="#222" stroke-width="0.6"/>
<circle cx="420.9" cy="441.5" r="4.45" fill="#e9786a" stroke="#222" stroke-width="0.6"/>
<circle cx="409.4" cy="448.8" r="4.45" fill="#e9786a" stroke="#222" stroke-width="0.6"/>
<circle cx="413.6" cy="449.9" r="4.45" fill="#e9786a" stroke="#222" stroke-width="0.6"/>
<circle cx="419.9" cy="448.8" r="4.45" fill="#e9786a" stroke="#222" stroke-width="0.6"/>
<circle cx="409.4" cy="456.2" r="4.45" fill="#e9786a" stroke="#222" stroke-width="0.6"/>
<circle cx="414.1" cy="457.2" r="4.45" fill="#e9786a" stroke="#222" stroke-width="0.6"/>
<circle cx="420.9" cy="456.2" r="4.45" fill="#e9786a" stroke="#222" stroke-width="0.6"/>
<circle cx="412.5" cy="460.3" r="4.45" fill="#e9786a" stroke="#222" stroke-width="0.6"/>
<circle cx="419.4" cy="424.4" r="4.45" fill="#e9786a" stroke="#222" stroke-width="0.6"/>
<circle cx="415" cy="428.8" r="4.45" fill="#e9786a" stroke="#222" stroke-width="0.6"/>
<circle cx="418.8" cy="432.7" r="4.45" fill="#e9786a" stroke="#222" stroke-width="0.6"/>
<circle cx="411.7" cy="432.7" r="4.45" fill="#e9786a" stroke="#222" stroke-width="0.6"/>
<circle cx="420.5" cy="439.3" r="4.45" fill="#e9786a" stroke="#222" stroke-width="0.6"/>
<circle cx="415.5" cy="441.5" r="4.45" fill="#e9786a" stroke="#222" stroke-width="0.6"/>
<circle cx="422.1" cy="446.5" r="4.45" fill="#e9786a" stroke="#222" stroke-width="0.6"/>
<circle cx="413.3" cy="449.8" r="4.45" fill="#e9786a" stroke="#222" stroke-width="0.6"/>
<circle cx="423.2" cy="448.7" r="4.45" fill="#e9786a" stroke="#222" stroke-width="0.6"/>
<circle cx="419.9" cy="453.1" r="4.45" fill="#e9786a" stroke="#222" stroke-width="0.6"/>
<circle cx="414.4" cy="458.1" r="4.45" fill="#e9786a" stroke="#222" stroke-width="0.6"/>
<circle cx="422.1" cy="456.4" r="4.45" fill="#e9786a" stroke="#222" stroke-width="0.6"/>
<circle cx="437.1" cy="442.1" r="4.45" fill="#e9786a" stroke="#222" stroke-width="0.6"/>
<circle cx="443.7" cy="445.4" r="4.45" fill="#e9786a" stroke="#222" stroke-width="0.6"/>
<circle cx="451.4" cy="447.1" r="4.45" fill="#e9786a" stroke="#222" stroke-width="0.6"/>
<circle cx="474.6" cy="430.5" r="4.45" fill="#e9786a" stroke="#222" stroke-width="0.6"/>
<circle cx="472.9" cy="441" r="4.45" fill="#e9786a" stroke="#222" stroke-width="0.6"/>
<circle cx="418.6" cy="386.5" r="4.45" fill="#e9786a" stroke="#222" stroke-width="0.6"/>
<circle cx="437" cy="386.5" r="4.45" fill="#e9786a" stroke="#222" stroke-width="0.6"/>
<circle cx="416.3" cy="398.3" r="4.45" fill="#e9786a" stroke="#222" stroke-width="0.6"/>
<circle cx="432" cy="400.9" r="4.45" fill="#e9786a" stroke="#222" stroke-width="0.6"/>
<circle cx="440.3" cy="400.6" r="4.45" fill="#e9786a" stroke="#222" stroke-width="0.6"/>
<circle cx="417.3" cy="405.1" r="4.45" fill="#e9786a" stroke="#222" stroke-width="0.6"/>
<circle cx="417.8" cy="411.6" r="4.45" fill="#e9786a" stroke="#222" stroke-width="0.6"/>
<circle cx="416.3" cy="416" r="4.45" fill="#e9786a" stroke="#222" stroke-width="0.6"/>
<circle cx="434.3" cy="413.4" r="4.45" fill="#e9786a" stroke="#222" stroke-width="0.6"/>
<circle cx="455.2" cy="406.4" r="4.45" fill="#e9786a" stroke="#222" stroke-width="0.6"/>
<circle cx="477" cy="393.5" r="4.45" fill="#e9786a" stroke="#222" stroke-width="0.6"/>
<circle cx="419.9" cy="424.4" r="4.45" fill="#e9786a" stroke="#222" stroke-width="0.6"/>
<circle cx="414.7" cy="428.1" r="4.45" fill="#e9786a" stroke="#222" stroke-width="0.6"/>
<circle cx="418.4" cy="432.8" r="4.45" fill="#e9786a" stroke="#222" stroke-width="0.6"/>
<circle cx="411" cy="432.8" r="4.45" fill="#e9786a" stroke="#222" stroke-width="0.6"/>
<circle cx="474.9" cy="430.7" r="4.45" fill="#e9786a" stroke="#222" stroke-width="0.6"/>
<circle cx="437.2" cy="439.6" r="4.45" fill="#e9786a" stroke="#222" stroke-width="0.6"/>
<circle cx="477.7" cy="393.3" r="4.45" fill="#e9786a" stroke="#222" stroke-width="0.6"/>
<circle cx="500.4" cy="386.4" r="4.45" fill="#e9786a" stroke="#222" stroke-width="0.6"/>
<circle cx="509" cy="386.4" r="4.45" fill="#e9786a" stroke="#222" stroke-width="0.6"/>
<circle cx="502.6" cy="396.3" r="4.45" fill="#e9786a" stroke="#222" stroke-width="0.6"/>
<circle cx="510.8" cy="394.3" r="4.45" fill="#e9786a" stroke="#222" stroke-width="0.6"/>
<circle cx="551.7" cy="386.4" r="4.45" fill="#e9786a" stroke="#222" stroke-width="0.6"/>
<circle cx="553.9" cy="400.7" r="4.45" fill="#e9786a" stroke="#222" stroke-width="0.6"/>
<circle cx="568.3" cy="399.6" r="4.45" fill="#e9786a" stroke="#222" stroke-width="0.6"/>
<circle cx="488.4" cy="422.3" r="4.45" fill="#e9786a" stroke="#222" stroke-width="0.6"/>
<circle cx="494.7" cy="430.5" r="4.45" fill="#e9786a" stroke="#222" stroke-width="0.6"/>
<circle cx="474.6" cy="430.8" r="4.45" fill="#e9786a" stroke="#222" stroke-width="0.6"/>
<circle cx="473.6" cy="441" r="4.45" fill="#e9786a" stroke="#222" stroke-width="0.6"/>
<circle cx="529.2" cy="441" r="4.45" fill="#e9786a" stroke="#222" stroke-width="0.6"/>
<text x="417.3" y="535.6" font-family="Liberation Serif" font-weight="bold" font-size="13.95">Log<tspan font-size="8.3" dy="3.8">2</tspan><tspan dy="-3.8">(Fold change)</tspan></text>
<text x="0" y="0" font-family="Liberation Serif" font-weight="bold" font-size="13.95" text-anchor="middle" transform="translate(332.7 446) rotate(-90)">-Log<tspan font-size="8.3" dy="3.8">10</tspan><tspan dy="-3.8">(FDR)</tspan></text>
<text x="322.7" y="380.6" font-family="Liberation Serif" font-weight="bold" font-size="20" text-anchor="start" >F</text>
<rect x="575.2" y="365.6" width="91.2" height="46.7" fill="#fff" stroke="#b8b8b8" stroke-width="0.8"/>
<circle cx="583.5" cy="375.9" r="4.1" fill="#e9786a" stroke="#555" stroke-width="0.5"/>
<text x="591.2" y="379.5" font-family="Liberation Serif" font-weight="bold" font-size="10.35" text-anchor="start" >Up-regulated</text>
<circle cx="583.5" cy="388.4" r="4.1" fill="#c4c4c4" stroke="#555" stroke-width="0.5"/>
<text x="591.2" y="392" font-family="Liberation Serif" font-weight="bold" font-size="10.35" text-anchor="start" >Not-significant</text>
<circle cx="583.5" cy="400.9" r="4.1" fill="#0d8984" stroke="#555" stroke-width="0.5"/>
<text x="591.2" y="404.5" font-family="Liberation Serif" font-weight="bold" font-size="10.35" text-anchor="start" >Down-regulated</text>
<line x1="393.7" y1="552" x2="393.7" y2="692.8" stroke="#c4c4cc" stroke-width="1.1"/>
<line x1="348.5" y1="672.8" x2="575.0" y2="672.8" stroke="#b4b4bc" stroke-width="1.1"/>
<line x1="348.5" y1="555.2" x2="348.5" y2="692.8" stroke="#9a9aa4" stroke-width="1.3"/>
<line x1="348.5" y1="692.8" x2="571.4" y2="692.8" stroke="#b0b0b6" stroke-width="1.5"/>
<path d="M348.5 552.2 L346.9 557.2 L350.1 557.2 Z" fill="#1a1a2e"/>
<path d="M574.4 692.8 L569.2 691.3 L569.2 694.3 Z" fill="#1a1a2e"/>
<line x1="348.5" y1="692.8" x2="348.5" y2="690.8" stroke="#999" stroke-width="0.8"/>
<text x="348.5" y="704.4" font-family="Liberation Serif" font-weight="bold" font-size="10" text-anchor="middle" >-2</text>
<line x1="371.1" y1="692.8" x2="371.1" y2="690.8" stroke="#999" stroke-width="0.8"/>
<text x="371.1" y="704.4" font-family="Liberation Serif" font-weight="bold" font-size="10" text-anchor="middle" >-1</text>
<line x1="393.7" y1="692.8" x2="393.7" y2="690.8" stroke="#999" stroke-width="0.8"/>
<text x="393.7" y="704.4" font-family="Liberation Serif" font-weight="bold" font-size="10" text-anchor="middle" >0</text>
<line x1="416.3" y1="692.8" x2="416.3" y2="690.8" stroke="#999" stroke-width="0.8"/>
<text x="416.3" y="704.4" font-family="Liberation Serif" font-weight="bold" font-size="10" text-anchor="middle" >1</text>
<line x1="438.9" y1="692.8" x2="438.9" y2="690.8" stroke="#999" stroke-width="0.8"/>
<text x="438.9" y="704.4" font-family="Liberation Serif" font-weight="bold" font-size="10" text-anchor="middle" >2</text>
<line x1="461.5" y1="692.8" x2="461.5" y2="690.8" stroke="#999" stroke-width="0.8"/>
<text x="461.5" y="704.4" font-family="Liberation Serif" font-weight="bold" font-size="10" text-anchor="middle" >3</text>
<line x1="484.1" y1="692.8" x2="484.1" y2="690.8" stroke="#999" stroke-width="0.8"/>
<text x="484.1" y="704.4" font-family="Liberation Serif" font-weight="bold" font-size="10" text-anchor="middle" >4</text>
<line x1="506.7" y1="692.8" x2="506.7" y2="690.8" stroke="#999" stroke-width="0.8"/>
<text x="506.7" y="704.4" font-family="Liberation Serif" font-weight="bold" font-size="10" text-anchor="middle" >5</text>
<line x1="529.3" y1="692.8" x2="529.3" y2="690.8" stroke="#999" stroke-width="0.8"/>
<text x="529.3" y="704.4" font-family="Liberation Serif" font-weight="bold" font-size="10" text-anchor="middle" >6</text>
<line x1="551.9" y1="692.8" x2="551.9" y2="690.8" stroke="#999" stroke-width="0.8"/>
<text x="551.9" y="704.4" font-family="Liberation Serif" font-weight="bold" font-size="10" text-anchor="middle" >7</text>
<line x1="348.5" y1="692.8" x2="351.0" y2="692.8" stroke="#6e6e84" stroke-width="0.8"/>
<text x="0" y="0" font-family="Liberation Serif" font-weight="bold" font-size="10" text-anchor="end" transform="translate(346.5 697) scale(0.9 1)" >-1</text>
<line x1="348.5" y1="672.8" x2="351.0" y2="672.8" stroke="#6e6e84" stroke-width="0.8"/>
<text x="0" y="0" font-family="Liberation Serif" font-weight="bold" font-size="10" text-anchor="end" transform="translate(346.5 677) scale(0.9 1)" >0</text>
<line x1="348.5" y1="652.8" x2="351.0" y2="652.8" stroke="#6e6e84" stroke-width="0.8"/>
<text x="0" y="0" font-family="Liberation Serif" font-weight="bold" font-size="10" text-anchor="end" transform="translate(346.5 657) scale(0.9 1)" >1</text>
<line x1="348.5" y1="632.8" x2="351.0" y2="632.8" stroke="#6e6e84" stroke-width="0.8"/>
<text x="0" y="0" font-family="Liberation Serif" font-weight="bold" font-size="10" text-anchor="end" transform="translate(346.5 637) scale(0.9 1)" >2</text>
<line x1="348.5" y1="612.8" x2="351.0" y2="612.8" stroke="#6e6e84" stroke-width="0.8"/>
<text x="0" y="0" font-family="Liberation Serif" font-weight="bold" font-size="10" text-anchor="end" transform="translate(346.5 617) scale(0.9 1)" >3</text>
<line x1="348.5" y1="592.8" x2="351.0" y2="592.8" stroke="#6e6e84" stroke-width="0.8"/>
<text x="0" y="0" font-family="Liberation Serif" font-weight="bold" font-size="10" text-anchor="end" transform="translate(346.5 597) scale(0.9 1)" >4</text>
<line x1="348.5" y1="572.8" x2="351.0" y2="572.8" stroke="#6e6e84" stroke-width="0.8"/>
<text x="0" y="0" font-family="Liberation Serif" font-weight="bold" font-size="10" text-anchor="end" transform="translate(346.5 577) scale(0.9 1)" >5</text>
<circle cx="378.7" cy="647" r="4.45" fill="#c4c4c4" stroke="#222" stroke-width="0.6"/>
<circle cx="385.9" cy="647" r="4.45" fill="#c4c4c4" stroke="#222" stroke-width="0.6"/>
<circle cx="383.2" cy="651.5" r="4.45" fill="#c4c4c4" stroke="#222" stroke-width="0.6"/>
<circle cx="389.5" cy="650.6" r="4.45" fill="#c4c4c4" stroke="#222" stroke-width="0.6"/>
<circle cx="396.6" cy="650.6" r="4.45" fill="#c4c4c4" stroke="#222" stroke-width="0.6"/>
<circle cx="403.8" cy="648.8" r="4.45" fill="#c4c4c4" stroke="#222" stroke-width="0.6"/>
<circle cx="423.5" cy="647.3" r="4.45" fill="#c4c4c4" stroke="#222" stroke-width="0.6"/>
<circle cx="414.6" cy="648.9" r="4.45" fill="#c4c4c4" stroke="#222" stroke-width="0.6"/>
<circle cx="403.1" cy="648.4" r="4.45" fill="#c4c4c4" stroke="#222" stroke-width="0.6"/>
<circle cx="357.3" cy="665.3" r="4.45" fill="#c4c4c4" stroke="#222" stroke-width="0.6"/>
<circle cx="369.4" cy="660.1" r="4.45" fill="#c4c4c4" stroke="#222" stroke-width="0.6"/>
<circle cx="375.1" cy="661.2" r="4.45" fill="#c4c4c4" stroke="#222" stroke-width="0.6"/>
<circle cx="372" cy="668.5" r="4.45" fill="#c4c4c4" stroke="#222" stroke-width="0.6"/>
<circle cx="379.3" cy="668.5" r="4.45" fill="#c4c4c4" stroke="#222" stroke-width="0.6"/>
<circle cx="379.3" cy="647.6" r="4.45" fill="#c4c4c4" stroke="#222" stroke-width="0.6"/>
<circle cx="383.5" cy="652.3" r="4.45" fill="#c4c4c4" stroke="#222" stroke-width="0.6"/>
<circle cx="387.7" cy="648.6" r="4.45" fill="#c4c4c4" stroke="#222" stroke-width="0.6"/>
<circle cx="384.5" cy="661.2" r="4.45" fill="#c4c4c4" stroke="#222" stroke-width="0.6"/>
<circle cx="393.9" cy="668.5" r="4.45" fill="#c4c4c4" stroke="#222" stroke-width="0.6"/>
<circle cx="397.1" cy="652.8" r="4.45" fill="#c4c4c4" stroke="#222" stroke-width="0.6"/>
<circle cx="402.3" cy="648.6" r="4.45" fill="#c4c4c4" stroke="#222" stroke-width="0.6"/>
<circle cx="402.3" cy="661.2" r="4.45" fill="#c4c4c4" stroke="#222" stroke-width="0.6"/>
<circle cx="407.5" cy="655.9" r="4.45" fill="#c4c4c4" stroke="#222" stroke-width="0.6"/>
<circle cx="411.7" cy="669.5" r="4.45" fill="#c4c4c4" stroke="#222" stroke-width="0.6"/>
<circle cx="403.4" cy="672.1" r="4.45" fill="#c4c4c4" stroke="#222" stroke-width="0.6"/>
<circle cx="412.8" cy="649.6" r="4.45" fill="#c4c4c4" stroke="#222" stroke-width="0.6"/>
<circle cx="391.9" cy="655.9" r="4.45" fill="#c4c4c4" stroke="#222" stroke-width="0.6"/>
<circle cx="389.8" cy="671.6" r="4.45" fill="#c4c4c4" stroke="#222" stroke-width="0.6"/>
<circle cx="398.1" cy="672.7" r="4.45" fill="#c4c4c4" stroke="#222" stroke-width="0.6"/>
<circle cx="381.4" cy="665.3" r="4.45" fill="#c4c4c4" stroke="#222" stroke-width="0.6"/>
<circle cx="410.7" cy="662.2" r="4.45" fill="#c4c4c4" stroke="#222" stroke-width="0.6"/>
<circle cx="414.9" cy="653.8" r="4.45" fill="#c4c4c4" stroke="#222" stroke-width="0.6"/>
<circle cx="423.5" cy="647.5" r="4.45" fill="#c4c4c4" stroke="#222" stroke-width="0.6"/>
<circle cx="436.3" cy="657.4" r="4.45" fill="#c4c4c4" stroke="#222" stroke-width="0.6"/>
<circle cx="411.7" cy="670.4" r="4.45" fill="#c4c4c4" stroke="#222" stroke-width="0.6"/>
<circle cx="403.6" cy="672.2" r="4.45" fill="#c4c4c4" stroke="#222" stroke-width="0.6"/>
<circle cx="402.7" cy="661.4" r="4.45" fill="#c4c4c4" stroke="#222" stroke-width="0.6"/>
<circle cx="408.1" cy="654.2" r="4.45" fill="#c4c4c4" stroke="#222" stroke-width="0.6"/>
<circle cx="413.5" cy="656.9" r="4.45" fill="#c4c4c4" stroke="#222" stroke-width="0.6"/>
<circle cx="413.5" cy="649.7" r="4.45" fill="#c4c4c4" stroke="#222" stroke-width="0.6"/>
<circle cx="403.6" cy="647.9" r="4.45" fill="#c4c4c4" stroke="#222" stroke-width="0.6"/>
<circle cx="390" cy="660" r="4.45" fill="#c4c4c4" stroke="#222" stroke-width="0.6"/>
<circle cx="396" cy="664" r="4.45" fill="#c4c4c4" stroke="#222" stroke-width="0.6"/>
<circle cx="385" cy="672" r="4.45" fill="#c4c4c4" stroke="#222" stroke-width="0.6"/>
<circle cx="377" cy="658" r="4.45" fill="#c4c4c4" stroke="#222" stroke-width="0.6"/>
<circle cx="390.4" cy="664.6" r="4.45" fill="#c4c4c4" stroke="#222" stroke-width="0.6"/>
<circle cx="394.4" cy="668.6" r="4.45" fill="#c4c4c4" stroke="#222" stroke-width="0.6"/>
<circle cx="387.7" cy="670" r="4.45" fill="#c4c4c4" stroke="#222" stroke-width="0.6"/>
<circle cx="390.4" cy="673.4" r="4.45" fill="#c4c4c4" stroke="#222" stroke-width="0.6"/>
<circle cx="397.1" cy="672.7" r="4.45" fill="#c4c4c4" stroke="#222" stroke-width="0.6"/>
<circle cx="385" cy="663.3" r="4.45" fill="#c4c4c4" stroke="#222" stroke-width="0.6"/>
<circle cx="379.6" cy="668.6" r="4.45" fill="#c4c4c4" stroke="#222" stroke-width="0.6"/>
<circle cx="403.8" cy="670" r="4.45" fill="#c4c4c4" stroke="#222" stroke-width="0.6"/>
<circle cx="409.2" cy="660.6" r="4.45" fill="#c4c4c4" stroke="#222" stroke-width="0.6"/>
<circle cx="382.3" cy="652.5" r="4.45" fill="#c4c4c4" stroke="#222" stroke-width="0.6"/>
<circle cx="397.1" cy="652.5" r="4.45" fill="#c4c4c4" stroke="#222" stroke-width="0.6"/>
<circle cx="406.5" cy="653.8" r="4.45" fill="#c4c4c4" stroke="#222" stroke-width="0.6"/>
<circle cx="391.7" cy="656.5" r="4.45" fill="#c4c4c4" stroke="#222" stroke-width="0.6"/>
<circle cx="376.9" cy="657.9" r="4.45" fill="#c4c4c4" stroke="#222" stroke-width="0.6"/>
<circle cx="387.7" cy="610.2" r="4.45" fill="#0d8984" stroke="#222" stroke-width="0.6"/>
<circle cx="370.6" cy="613.8" r="4.45" fill="#0d8984" stroke="#222" stroke-width="0.6"/>
<circle cx="378.7" cy="615.6" r="4.45" fill="#0d8984" stroke="#222" stroke-width="0.6"/>
<circle cx="363" cy="622.4" r="4.45" fill="#0d8984" stroke="#222" stroke-width="0.6"/>
<circle cx="366.1" cy="619.7" r="4.45" fill="#0d8984" stroke="#222" stroke-width="0.6"/>
<circle cx="374.2" cy="621" r="4.45" fill="#0d8984" stroke="#222" stroke-width="0.6"/>
<circle cx="378.7" cy="623.7" r="4.45" fill="#0d8984" stroke="#222" stroke-width="0.6"/>
<circle cx="386.8" cy="618.8" r="4.45" fill="#0d8984" stroke="#222" stroke-width="0.6"/>
<circle cx="373.3" cy="628.2" r="4.45" fill="#0d8984" stroke="#222" stroke-width="0.6"/>
<circle cx="381.4" cy="626.4" r="4.45" fill="#0d8984" stroke="#222" stroke-width="0.6"/>
<circle cx="388.6" cy="625.5" r="4.45" fill="#0d8984" stroke="#222" stroke-width="0.6"/>
<circle cx="389.5" cy="630.9" r="4.45" fill="#0d8984" stroke="#222" stroke-width="0.6"/>
<circle cx="378.7" cy="635.4" r="4.45" fill="#0d8984" stroke="#222" stroke-width="0.6"/>
<circle cx="385" cy="634.5" r="4.45" fill="#0d8984" stroke="#222" stroke-width="0.6"/>
<circle cx="372.4" cy="641.6" r="4.45" fill="#0d8984" stroke="#222" stroke-width="0.6"/>
<circle cx="379.6" cy="640.7" r="4.45" fill="#0d8984" stroke="#222" stroke-width="0.6"/>
<circle cx="387.7" cy="639.8" r="4.45" fill="#0d8984" stroke="#222" stroke-width="0.6"/>
<circle cx="390.4" cy="643.4" r="4.45" fill="#0d8984" stroke="#222" stroke-width="0.6"/>
<circle cx="372.4" cy="644.8" r="4.45" fill="#0d8984" stroke="#222" stroke-width="0.6"/>
<circle cx="383.2" cy="641.6" r="4.45" fill="#0d8984" stroke="#222" stroke-width="0.6"/>
<circle cx="373" cy="643.4" r="4.45" fill="#0d8984" stroke="#222" stroke-width="0.6"/>
<circle cx="378.3" cy="638.1" r="4.45" fill="#0d8984" stroke="#222" stroke-width="0.6"/>
<circle cx="384.5" cy="641.3" r="4.45" fill="#0d8984" stroke="#222" stroke-width="0.6"/>
<circle cx="390.8" cy="640.2" r="4.45" fill="#0d8984" stroke="#222" stroke-width="0.6"/>
<circle cx="383" cy="630" r="4.45" fill="#0d8984" stroke="#222" stroke-width="0.6"/>
<circle cx="375" cy="632" r="4.45" fill="#0d8984" stroke="#222" stroke-width="0.6"/>
<circle cx="398.9" cy="616.1" r="4.45" fill="#e9786a" stroke="#222" stroke-width="0.6"/>
<circle cx="398.4" cy="623.7" r="4.45" fill="#e9786a" stroke="#222" stroke-width="0.6"/>
<circle cx="397.5" cy="631.8" r="4.45" fill="#e9786a" stroke="#222" stroke-width="0.6"/>
<circle cx="397.5" cy="637.2" r="4.45" fill="#e9786a" stroke="#222" stroke-width="0.6"/>
<circle cx="403.8" cy="637.2" r="4.45" fill="#e9786a" stroke="#222" stroke-width="0.6"/>
<circle cx="398.4" cy="643.4" r="4.45" fill="#e9786a" stroke="#222" stroke-width="0.6"/>
<circle cx="405.6" cy="643.4" r="4.45" fill="#e9786a" stroke="#222" stroke-width="0.6"/>
<circle cx="407.4" cy="630.9" r="4.45" fill="#e9786a" stroke="#222" stroke-width="0.6"/>
<circle cx="407.4" cy="624.6" r="4.45" fill="#e9786a" stroke="#222" stroke-width="0.6"/>
<circle cx="423.9" cy="607" r="4.45" fill="#e9786a" stroke="#222" stroke-width="0.6"/>
<circle cx="433" cy="605.5" r="4.45" fill="#e9786a" stroke="#222" stroke-width="0.6"/>
<circle cx="441.9" cy="604.9" r="4.45" fill="#e9786a" stroke="#222" stroke-width="0.6"/>
<circle cx="443.4" cy="610.5" r="4.45" fill="#e9786a" stroke="#222" stroke-width="0.6"/>
<circle cx="457" cy="605.5" r="4.45" fill="#e9786a" stroke="#222" stroke-width="0.6"/>
<circle cx="413.6" cy="613.8" r="4.45" fill="#e9786a" stroke="#222" stroke-width="0.6"/>
<circle cx="420.4" cy="617" r="4.45" fill="#e9786a" stroke="#222" stroke-width="0.6"/>
<circle cx="426.7" cy="617" r="4.45" fill="#e9786a" stroke="#222" stroke-width="0.6"/>
<circle cx="433.5" cy="616.5" r="4.45" fill="#e9786a" stroke="#222" stroke-width="0.6"/>
<circle cx="401" cy="616.5" r="4.45" fill="#e9786a" stroke="#222" stroke-width="0.6"/>
<circle cx="412" cy="620.6" r="4.45" fill="#e9786a" stroke="#222" stroke-width="0.6"/>
<circle cx="417.3" cy="624.8" r="4.45" fill="#e9786a" stroke="#222" stroke-width="0.6"/>
<circle cx="424.1" cy="625.3" r="4.45" fill="#e9786a" stroke="#222" stroke-width="0.6"/>
<circle cx="428.3" cy="630.1" r="4.45" fill="#e9786a" stroke="#222" stroke-width="0.6"/>
<circle cx="441.3" cy="628" r="4.45" fill="#e9786a" stroke="#222" stroke-width="0.6"/>
<circle cx="445" cy="627.2" r="4.45" fill="#e9786a" stroke="#222" stroke-width="0.6"/>
<circle cx="408.4" cy="624.3" r="4.45" fill="#e9786a" stroke="#222" stroke-width="0.6"/>
<circle cx="410.5" cy="631.1" r="4.45" fill="#e9786a" stroke="#222" stroke-width="0.6"/>
<circle cx="416.7" cy="631.6" r="4.45" fill="#e9786a" stroke="#222" stroke-width="0.6"/>
<circle cx="401" cy="623.3" r="4.45" fill="#e9786a" stroke="#222" stroke-width="0.6"/>
<circle cx="401" cy="631.1" r="4.45" fill="#e9786a" stroke="#222" stroke-width="0.6"/>
<circle cx="406.3" cy="637.9" r="4.45" fill="#e9786a" stroke="#222" stroke-width="0.6"/>
<circle cx="414.6" cy="637.4" r="4.45" fill="#e9786a" stroke="#222" stroke-width="0.6"/>
<circle cx="417.3" cy="639.5" r="4.45" fill="#e9786a" stroke="#222" stroke-width="0.6"/>
<circle cx="402.1" cy="642.1" r="4.45" fill="#e9786a" stroke="#222" stroke-width="0.6"/>
<circle cx="408.4" cy="644.2" r="4.45" fill="#e9786a" stroke="#222" stroke-width="0.6"/>
<circle cx="415.6" cy="567" r="4.45" fill="#e9786a" stroke="#222" stroke-width="0.6"/>
<circle cx="418.6" cy="586.4" r="4.45" fill="#e9786a" stroke="#222" stroke-width="0.6"/>
<circle cx="423.6" cy="607" r="4.45" fill="#e9786a" stroke="#222" stroke-width="0.6"/>
<circle cx="432.6" cy="605.5" r="4.45" fill="#e9786a" stroke="#222" stroke-width="0.6"/>
<circle cx="442" cy="605.1" r="4.45" fill="#e9786a" stroke="#222" stroke-width="0.6"/>
<circle cx="443.5" cy="610" r="4.45" fill="#e9786a" stroke="#222" stroke-width="0.6"/>
<circle cx="457" cy="605.5" r="4.45" fill="#e9786a" stroke="#222" stroke-width="0.6"/>
<circle cx="505.8" cy="616.1" r="4.45" fill="#e9786a" stroke="#222" stroke-width="0.6"/>
<circle cx="513.1" cy="622.2" r="4.45" fill="#e9786a" stroke="#222" stroke-width="0.6"/>
<circle cx="519" cy="626" r="4.45" fill="#e9786a" stroke="#222" stroke-width="0.6"/>
<circle cx="551.7" cy="622.2" r="4.45" fill="#e9786a" stroke="#222" stroke-width="0.6"/>
<circle cx="398.1" cy="641.3" r="4.45" fill="#e9786a" stroke="#222" stroke-width="0.6"/>
<circle cx="404.4" cy="643.4" r="4.45" fill="#e9786a" stroke="#222" stroke-width="0.6"/>
<circle cx="408.6" cy="645.5" r="4.45" fill="#e9786a" stroke="#222" stroke-width="0.6"/>
<circle cx="415.9" cy="639.2" r="4.45" fill="#e9786a" stroke="#222" stroke-width="0.6"/>
<circle cx="407.2" cy="646.1" r="4.45" fill="#e9786a" stroke="#222" stroke-width="0.6"/>
<circle cx="401.8" cy="640.8" r="4.45" fill="#e9786a" stroke="#222" stroke-width="0.6"/>
<circle cx="416.1" cy="639" r="4.45" fill="#e9786a" stroke="#222" stroke-width="0.6"/>
<circle cx="407.2" cy="636.3" r="4.45" fill="#e9786a" stroke="#222" stroke-width="0.6"/>
<circle cx="410.8" cy="631.8" r="4.45" fill="#e9786a" stroke="#222" stroke-width="0.6"/>
<circle cx="427.8" cy="630.9" r="4.45" fill="#e9786a" stroke="#222" stroke-width="0.6"/>
<circle cx="442.2" cy="630" r="4.45" fill="#e9786a" stroke="#222" stroke-width="0.6"/>
<text x="417.3" y="717" font-family="Liberation Serif" font-weight="bold" font-size="13.95">Log<tspan font-size="8.3" dy="3.8">2</tspan><tspan dy="-3.8">(Fold change)</tspan></text>
<text x="0" y="0" font-family="Liberation Serif" font-weight="bold" font-size="13.95" text-anchor="middle" transform="translate(332.8 628.7) rotate(-90)">-Log<tspan font-size="8.3" dy="3.8">10</tspan><tspan dy="-3.8">(FDR)</tspan></text>
<text x="320.9" y="568.2" font-family="Liberation Serif" font-weight="bold" font-size="20" text-anchor="start" >H</text>
<rect x="576.6" y="551.2" width="91.3" height="46.9" fill="#fff" stroke="#b8b8b8" stroke-width="0.8"/>
<circle cx="584.9" cy="561.5" r="4.1" fill="#e9786a" stroke="#555" stroke-width="0.5"/>
<text x="592.6" y="565.1" font-family="Liberation Serif" font-weight="bold" font-size="10.35" text-anchor="start" >Up-regulated</text>
<circle cx="584.9" cy="574" r="4.1" fill="#c4c4c4" stroke="#555" stroke-width="0.5"/>
<text x="592.6" y="577.6" font-family="Liberation Serif" font-weight="bold" font-size="10.35" text-anchor="start" >Not-significant</text>
<circle cx="584.9" cy="586.5" r="4.1" fill="#0d8984" stroke="#555" stroke-width="0.5"/>
<text x="592.6" y="590.1" font-family="Liberation Serif" font-weight="bold" font-size="10.35" text-anchor="start" >Down-regulated</text>
</svg></body></html>
